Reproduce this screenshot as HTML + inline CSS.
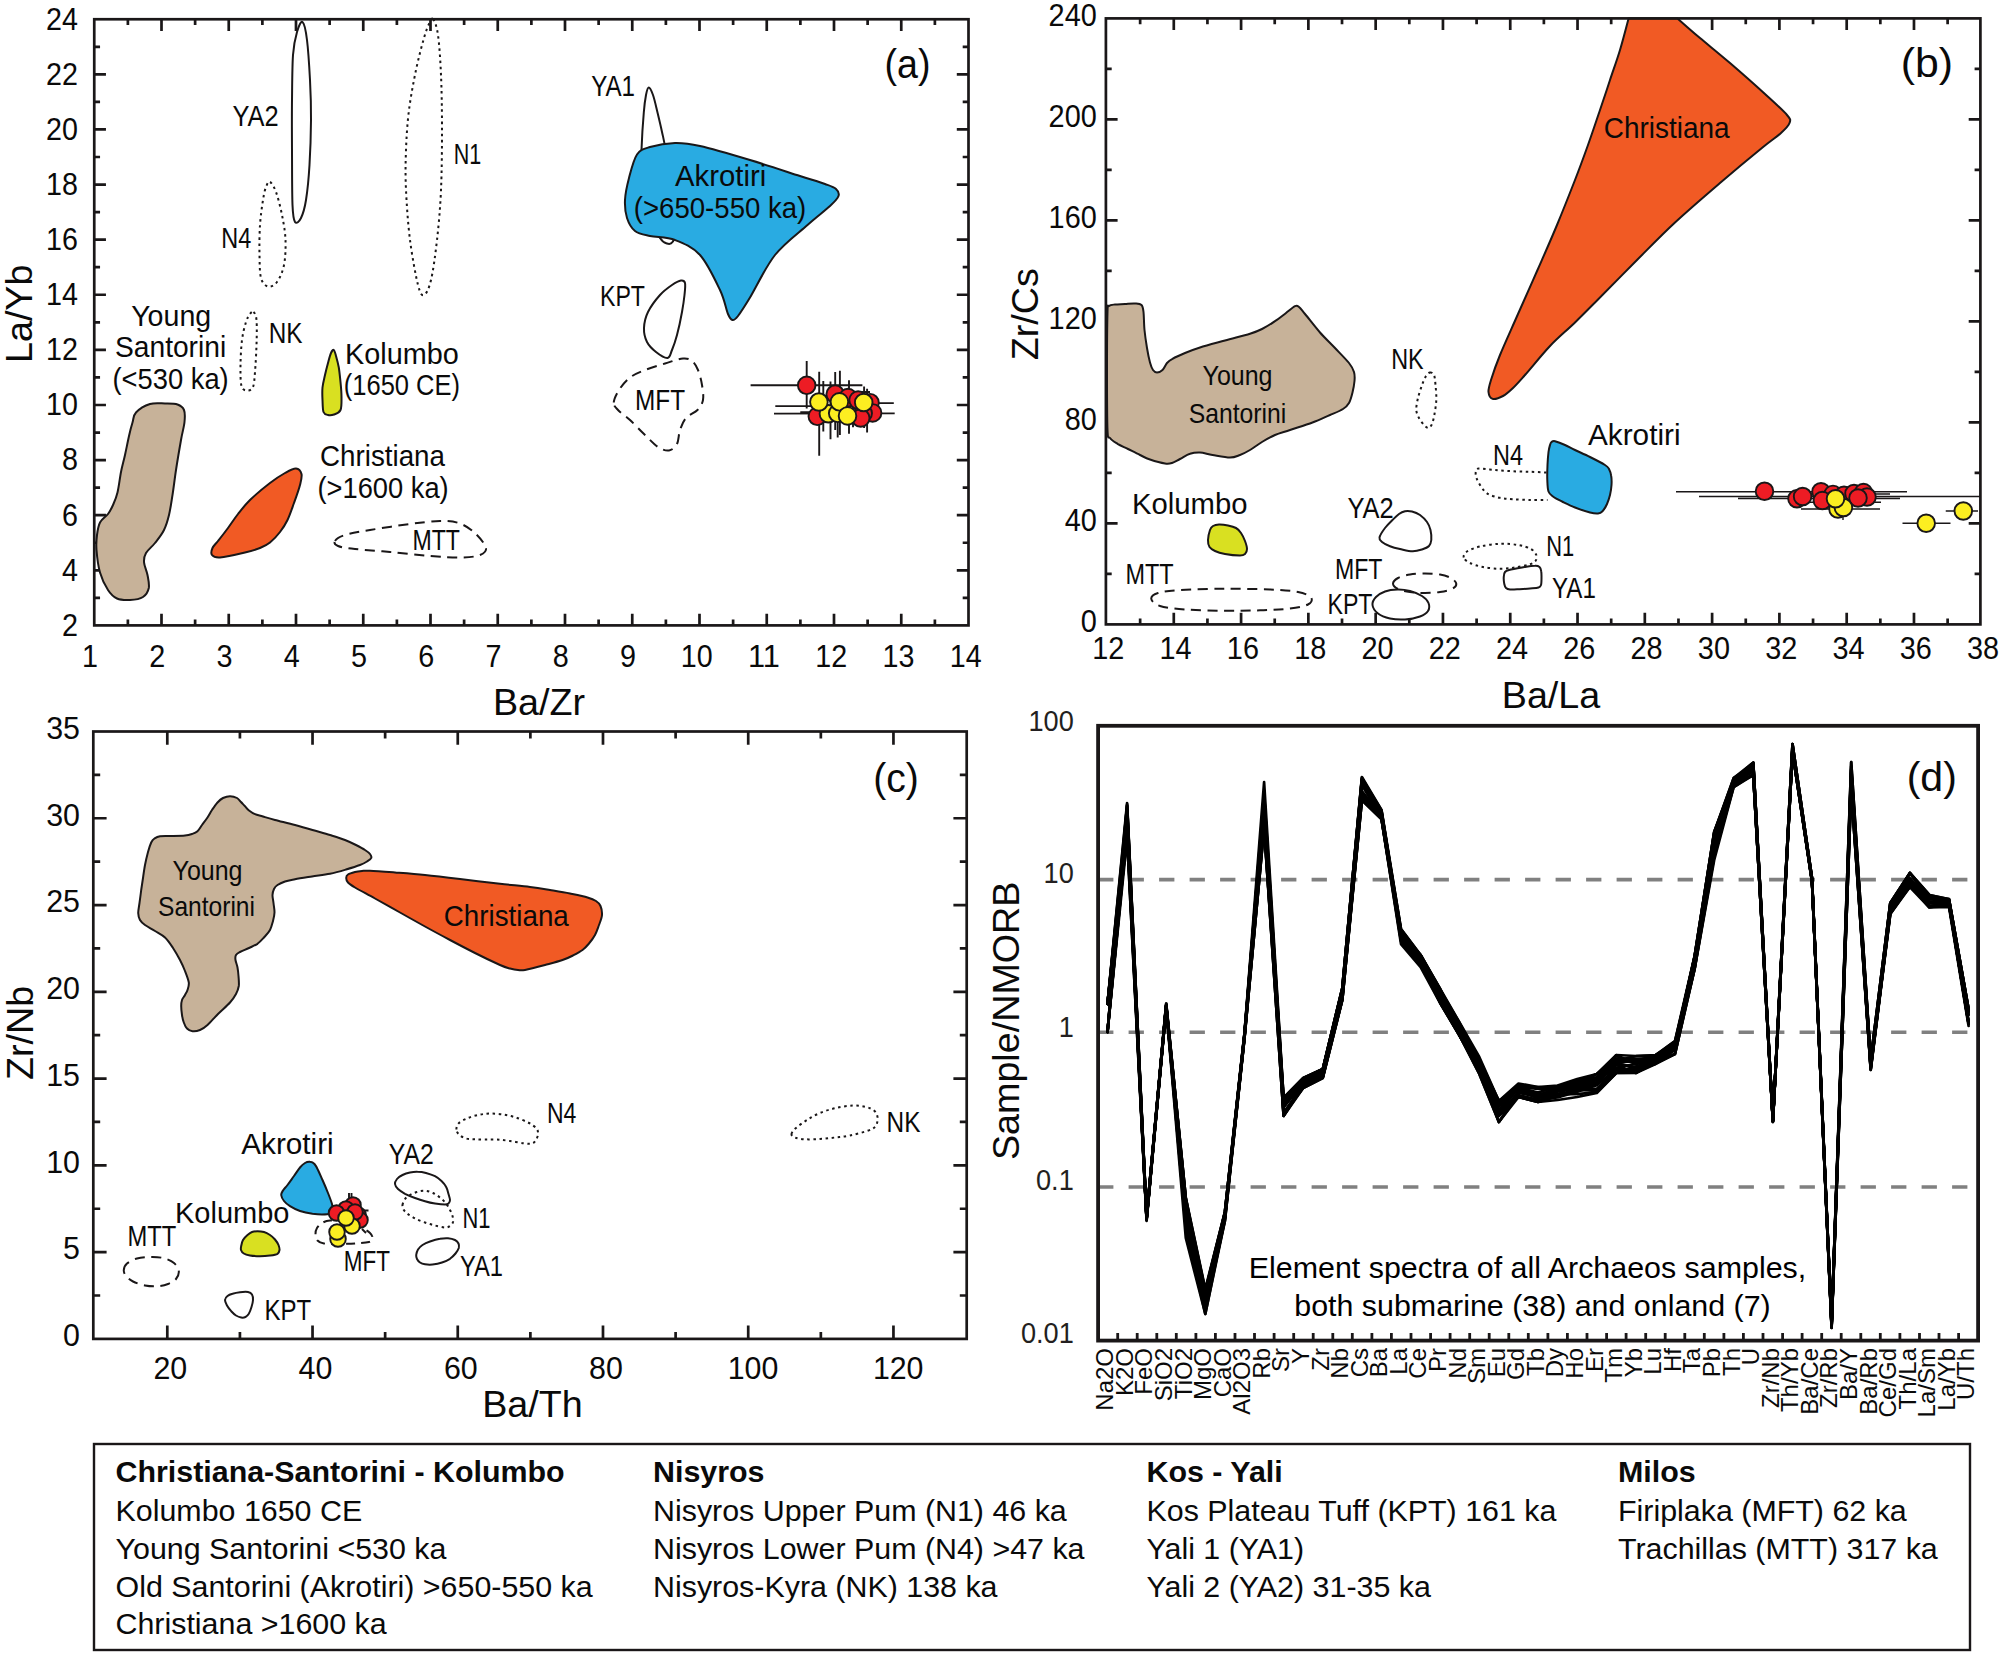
<!DOCTYPE html>
<html><head><meta charset="utf-8"><title>Figure</title>
<style>
html,body{margin:0;padding:0;background:#fff}
body{width:2000px;height:1654px;overflow:hidden}
svg{display:block}
svg text{font-family:"Liberation Sans",sans-serif}
</style></head><body>
<svg width="2000" height="1654" viewBox="0 0 2000 1654">
<rect width="2000" height="1654" fill="#fff"/>
<g id="panel-a">
<path d="M161.50,19.25v11.7M161.50,625.4v-11.7M228.75,19.25v11.7M228.75,625.4v-11.7M296.00,19.25v11.7M296.00,625.4v-11.7M363.25,19.25v11.7M363.25,625.4v-11.7M430.50,19.25v11.7M430.50,625.4v-11.7M497.75,19.25v11.7M497.75,625.4v-11.7M565.00,19.25v11.7M565.00,625.4v-11.7M632.25,19.25v11.7M632.25,625.4v-11.7M699.50,19.25v11.7M699.50,625.4v-11.7M766.75,19.25v11.7M766.75,625.4v-11.7M834.00,19.25v11.7M834.00,625.4v-11.7M901.25,19.25v11.7M901.25,625.4v-11.7M127.88,19.25v5.8M127.88,625.4v-5.8M195.12,19.25v5.8M195.12,625.4v-5.8M262.38,19.25v5.8M262.38,625.4v-5.8M329.62,19.25v5.8M329.62,625.4v-5.8M396.88,19.25v5.8M396.88,625.4v-5.8M464.12,19.25v5.8M464.12,625.4v-5.8M531.38,19.25v5.8M531.38,625.4v-5.8M598.62,19.25v5.8M598.62,625.4v-5.8M665.88,19.25v5.8M665.88,625.4v-5.8M733.12,19.25v5.8M733.12,625.4v-5.8M800.38,19.25v5.8M800.38,625.4v-5.8M867.62,19.25v5.8M867.62,625.4v-5.8M934.88,19.25v5.8M934.88,625.4v-5.8M94.25,570.30h11.7M968.5,570.30h-11.7M94.25,515.19h11.7M968.5,515.19h-11.7M94.25,460.09h11.7M968.5,460.09h-11.7M94.25,404.98h11.7M968.5,404.98h-11.7M94.25,349.88h11.7M968.5,349.88h-11.7M94.25,294.77h11.7M968.5,294.77h-11.7M94.25,239.67h11.7M968.5,239.67h-11.7M94.25,184.56h11.7M968.5,184.56h-11.7M94.25,129.46h11.7M968.5,129.46h-11.7M94.25,74.35h11.7M968.5,74.35h-11.7M94.25,597.85h5.8M968.5,597.85h-5.8M94.25,542.74h5.8M968.5,542.74h-5.8M94.25,487.64h5.8M968.5,487.64h-5.8M94.25,432.53h5.8M968.5,432.53h-5.8M94.25,377.43h5.8M968.5,377.43h-5.8M94.25,322.32h5.8M968.5,322.32h-5.8M94.25,267.22h5.8M968.5,267.22h-5.8M94.25,212.12h5.8M968.5,212.12h-5.8M94.25,157.01h5.8M968.5,157.01h-5.8M94.25,101.91h5.8M968.5,101.91h-5.8M94.25,46.80h5.8M968.5,46.80h-5.8" stroke="#1a1718" stroke-width="2.7" fill="none"/>
<path d="M302.5,22.0C304.2,23.3 305.8,30.3 307.0,40.0C308.2,49.7 309.3,66.7 310.0,80.0C310.7,93.3 311.1,105.8 311.0,120.0C310.9,134.2 310.3,151.7 309.5,165.0C308.7,178.3 307.4,191.2 306.0,200.0C304.6,208.8 302.8,214.3 301.0,218.0C299.2,221.7 296.4,224.2 295.0,222.0C293.6,219.8 293.0,217.0 292.5,205.0C292.0,193.0 292.1,167.5 292.0,150.0C291.9,132.5 291.8,115.8 292.0,100.0C292.2,84.2 292.2,66.3 293.0,55.0C293.8,43.7 295.4,37.5 297.0,32.0C298.6,26.5 300.8,20.7 302.5,22.0Z" fill="none" stroke="#1a1718" stroke-width="2" stroke-linejoin="round"/>
<path d="M433.0,19.0C434.5,20.8 436.7,25.7 438.0,35.0C439.3,44.3 440.3,59.2 441.0,75.0C441.7,90.8 442.0,110.8 442.0,130.0C442.0,149.2 441.8,171.7 441.0,190.0C440.2,208.3 438.7,225.0 437.0,240.0C435.3,255.0 433.2,270.8 431.0,280.0C428.8,289.2 426.2,294.2 424.0,295.0C421.8,295.8 420.3,294.2 418.0,285.0C415.7,275.8 412.0,255.8 410.0,240.0C408.0,224.2 406.7,205.0 406.0,190.0C405.3,175.0 405.5,163.3 406.0,150.0C406.5,136.7 407.3,123.3 409.0,110.0C410.7,96.7 413.5,82.0 416.0,70.0C418.5,58.0 421.8,45.7 424.0,38.0C426.2,30.3 427.5,27.2 429.0,24.0C430.5,20.8 431.5,17.2 433.0,19.0Z" fill="none" stroke="#1a1718" stroke-width="2" stroke-linejoin="round" stroke-dasharray="2.5,3.6"/>
<path d="M270.0,182.0C271.7,182.8 274.0,186.5 276.0,192.0C278.0,197.5 280.4,207.0 282.0,215.0C283.6,223.0 285.2,231.7 285.5,240.0C285.8,248.3 285.4,258.0 284.0,265.0C282.6,272.0 279.7,278.4 277.0,282.0C274.3,285.6 270.7,287.2 268.0,286.5C265.3,285.8 262.4,283.2 261.0,278.0C259.6,272.8 259.7,263.8 259.5,255.0C259.3,246.2 259.4,234.2 260.0,225.0C260.6,215.8 262.0,206.3 263.0,200.0C264.0,193.7 264.8,190.0 266.0,187.0C267.2,184.0 268.3,181.2 270.0,182.0Z" fill="none" stroke="#1a1718" stroke-width="2" stroke-linejoin="round" stroke-dasharray="2.5,3.6"/>
<path d="M253.5,312.0C254.6,313.0 256.0,314.5 256.5,320.0C257.0,325.5 256.8,336.3 256.5,345.0C256.2,353.7 255.6,365.0 255.0,372.0C254.4,379.0 254.3,383.9 253.0,387.0C251.7,390.1 248.9,390.7 247.0,390.5C245.1,390.3 242.6,390.2 241.5,386.0C240.4,381.8 240.4,372.7 240.5,365.0C240.6,357.3 241.1,347.2 242.0,340.0C242.9,332.8 244.7,326.3 246.0,322.0C247.3,317.7 248.8,315.7 250.0,314.0C251.2,312.3 252.4,311.0 253.5,312.0Z" fill="none" stroke="#1a1718" stroke-width="2" stroke-linejoin="round" stroke-dasharray="2.5,3.6"/>
<path d="M648.8,87.5C649.9,87.5 651.5,90.8 653.0,95.0C654.5,99.2 656.0,106.3 657.5,112.5C659.0,118.7 660.7,125.8 662.0,132.0C663.3,138.2 664.2,140.3 665.5,150.0C666.8,159.7 668.6,176.3 670.0,190.0C671.4,203.7 673.6,223.3 674.0,232.0C674.4,240.7 673.7,240.1 672.5,242.0C671.3,243.9 669.1,244.2 667.0,243.5C664.9,242.8 663.2,242.8 660.0,238.0C656.8,233.2 651.1,224.7 648.0,215.0C644.9,205.3 642.6,190.8 641.5,180.0C640.4,169.2 641.1,161.2 641.5,150.0C641.9,138.8 643.0,121.7 643.8,112.5C644.5,103.3 645.2,99.2 646.0,95.0C646.8,90.8 647.6,87.5 648.8,87.5Z" fill="none" stroke="#1a1718" stroke-width="2" stroke-linejoin="round"/>
<path d="M637.0,154.5C640.5,149.3 643.7,148.9 650.0,147.0C656.3,145.1 666.7,143.2 675.0,143.0C683.3,142.8 687.5,143.2 700.0,146.0C712.5,148.8 733.3,155.0 750.0,160.0C766.7,165.0 787.5,172.0 800.0,176.0C812.5,180.0 819.0,181.8 825.0,184.0C831.0,186.2 833.8,187.0 836.0,189.0C838.2,191.0 839.5,193.2 838.5,196.0C837.5,198.8 835.2,201.2 830.0,206.0C824.8,210.8 816.7,216.8 807.5,225.0C798.3,233.2 784.6,242.9 775.0,255.0C765.4,267.1 756.2,287.3 750.0,297.5C743.8,307.7 740.9,312.2 738.0,316.0C735.1,319.8 734.2,320.3 732.5,320.0C730.8,319.7 730.1,319.0 728.0,314.0C725.9,309.0 724.7,299.8 720.0,290.0C715.3,280.2 707.5,263.3 700.0,255.0C692.5,246.7 683.3,243.2 675.0,240.0C666.7,236.8 656.7,237.5 650.0,236.0C643.3,234.5 638.8,234.0 635.0,231.0C631.2,228.0 628.7,223.2 627.0,218.0C625.3,212.8 624.7,206.7 625.0,200.0C625.3,193.3 627.0,185.6 629.0,178.0C631.0,170.4 633.5,159.7 637.0,154.5Z" fill="#29abe2" stroke="#1a1718" stroke-width="2" stroke-linejoin="round"/>
<path d="M685.0,283.0C684.4,280.6 683.2,280.2 681.0,280.5C678.8,280.8 675.5,282.6 672.0,285.0C668.5,287.4 664.0,290.5 660.0,295.0C656.0,299.5 650.7,306.5 648.0,312.0C645.3,317.5 644.2,323.0 644.0,328.0C643.8,333.0 645.0,338.0 647.0,342.0C649.0,346.0 652.6,349.3 656.0,352.0C659.4,354.7 664.8,358.3 667.5,358.0C670.2,357.7 670.4,353.8 672.0,350.0C673.6,346.2 675.3,341.3 677.0,335.0C678.7,328.7 680.8,318.7 682.0,312.0C683.2,305.3 684.0,299.8 684.5,295.0C685.0,290.2 685.6,285.4 685.0,283.0Z" fill="none" stroke="#1a1718" stroke-width="2" stroke-linejoin="round"/>
<path d="M613.8,402.5C613.9,399.2 616.3,394.2 619.0,390.0C621.7,385.8 625.7,380.8 630.0,377.5C634.3,374.2 639.2,372.3 645.0,370.0C650.8,367.7 658.7,365.4 665.0,363.5C671.3,361.6 678.5,358.9 683.0,358.5C687.5,358.1 689.5,359.1 692.0,361.0C694.5,362.9 696.3,366.0 698.0,370.0C699.7,374.0 701.2,380.0 702.0,385.0C702.8,390.0 703.8,395.8 703.0,400.0C702.2,404.2 700.3,407.0 697.5,410.0C694.7,413.0 688.9,414.7 686.0,418.0C683.1,421.3 681.5,425.7 680.0,430.0C678.5,434.3 678.8,440.6 677.0,444.0C675.2,447.4 672.2,450.0 669.0,450.5C665.8,451.0 662.0,449.6 658.0,447.0C654.0,444.4 649.7,439.5 645.0,435.0C640.3,430.5 634.5,424.2 630.0,420.0C625.5,415.8 620.7,412.9 618.0,410.0C615.3,407.1 613.6,405.8 613.8,402.5Z" fill="none" stroke="#1a1718" stroke-width="2" stroke-linejoin="round" stroke-dasharray="10,6.5"/>
<path d="M335.0,541.0C336.2,539.2 339.2,536.8 345.0,535.0C350.8,533.2 359.2,531.8 370.0,530.0C380.8,528.2 398.3,525.5 410.0,524.0C421.7,522.5 431.7,521.1 440.0,521.0C448.3,520.9 454.0,521.3 460.0,523.5C466.0,525.7 471.7,529.9 476.0,534.0C480.3,538.1 485.3,544.5 486.0,548.0C486.7,551.5 484.0,553.4 480.0,555.0C476.0,556.6 470.3,557.3 462.0,557.5C453.7,557.7 442.0,556.9 430.0,556.0C418.0,555.1 402.5,553.2 390.0,552.0C377.5,550.8 363.7,550.0 355.0,549.0C346.3,548.0 341.3,547.3 338.0,546.0C334.7,544.7 333.8,542.8 335.0,541.0Z" fill="none" stroke="#1a1718" stroke-width="2" stroke-linejoin="round" stroke-dasharray="10,6.5"/>
<path d="M136.0,412.5C138.9,409.4 145.2,405.5 150.0,404.0C154.8,402.5 160.4,403.4 165.0,403.5C169.6,403.6 174.3,403.4 177.5,404.5C180.7,405.6 182.8,407.1 184.0,410.0C185.2,412.9 185.0,417.0 184.5,422.0C184.0,427.0 182.4,432.0 181.0,440.0C179.6,448.0 177.4,460.8 176.0,470.0C174.6,479.2 173.7,487.5 172.5,495.0C171.3,502.5 170.4,509.2 169.0,515.0C167.6,520.8 166.3,525.3 164.0,530.0C161.7,534.7 158.0,539.2 155.0,543.0C152.0,546.8 147.8,549.8 146.0,553.0C144.2,556.2 143.8,558.3 144.0,562.0C144.2,565.7 146.7,570.7 147.5,575.0C148.3,579.3 149.5,584.3 148.8,588.0C148.0,591.7 146.1,595.0 143.0,597.0C139.9,599.0 134.3,599.8 130.0,600.0C125.7,600.2 120.7,600.2 117.0,598.5C113.3,596.8 110.8,594.3 108.0,590.0C105.2,585.7 101.9,579.2 100.0,572.5C98.1,565.8 97.0,556.2 96.5,550.0C96.0,543.8 96.4,539.6 97.0,535.0C97.6,530.4 98.2,526.0 100.0,522.5C101.8,519.0 105.8,516.9 108.0,514.0C110.2,511.1 111.4,508.6 113.0,505.0C114.6,501.4 116.2,498.0 117.5,492.5C118.8,487.0 119.8,478.2 121.0,472.0C122.2,465.8 123.7,461.0 125.0,455.0C126.3,449.0 127.8,441.4 129.0,436.0C130.2,430.6 131.3,426.4 132.5,422.5C133.7,418.6 133.1,415.6 136.0,412.5Z" fill="#c7b299" stroke="#1a1718" stroke-width="2" stroke-linejoin="round"/>
<path d="M212.5,548.0C211.5,550.3 210.8,553.4 212.0,555.0C213.2,556.6 214.5,557.9 220.0,557.5C225.5,557.1 238.3,554.1 245.0,552.5C251.7,550.9 255.8,549.7 260.0,548.0C264.2,546.3 266.7,545.2 270.0,542.5C273.3,539.8 277.1,535.8 280.0,532.0C282.9,528.2 285.2,524.8 287.5,520.0C289.8,515.2 291.9,508.8 294.0,503.0C296.1,497.2 298.8,489.8 300.0,485.0C301.2,480.2 302.2,476.8 301.5,474.0C300.8,471.2 298.8,468.7 296.0,468.5C293.2,468.3 289.3,470.6 285.0,473.0C280.7,475.4 275.8,478.5 270.0,483.0C264.2,487.5 255.3,494.8 250.0,500.0C244.7,505.2 241.7,509.3 238.0,514.0C234.3,518.7 231.3,523.5 228.0,528.0C224.7,532.5 220.6,537.7 218.0,541.0C215.4,544.3 213.5,545.7 212.5,548.0Z" fill="#f15a24" stroke="#1a1718" stroke-width="2" stroke-linejoin="round"/>
<path d="M333.8,350.0C334.6,350.5 335.2,353.1 336.0,356.0C336.8,358.9 338.0,363.2 338.8,367.5C339.5,371.8 340.0,377.1 340.5,382.0C341.0,386.9 341.5,392.3 341.5,397.0C341.5,401.7 341.8,407.1 340.5,410.0C339.2,412.9 336.1,413.7 334.0,414.5C331.9,415.3 329.8,415.4 328.0,415.0C326.2,414.6 324.4,414.5 323.5,412.0C322.6,409.5 322.7,404.1 322.5,400.0C322.3,395.9 322.1,391.7 322.5,387.5C322.9,383.3 324.1,379.1 325.0,375.0C325.9,370.9 327.0,366.7 328.0,363.0C329.0,359.3 330.0,355.2 331.0,353.0C332.0,350.8 332.9,349.5 333.8,350.0Z" fill="#d9e021" stroke="#1a1718" stroke-width="2" stroke-linejoin="round"/>
<path d="M750.6,385.3L862.4,385.3M806.7,361L806.7,408.6M775.3,406.1L830,406.1M840,403.1L893.8,403.1M774,413.6L894.7,413.4M800.3,412.3L830,412.3M819.2,371.7L819.2,455.8M823.3,381L823.3,431.6M830.5,381.4L830.5,439.2M835.2,372L835.2,430M839.9,370.8L839.9,435M837.7,400L837.7,437.5M849,380.2L849,433.7M853,390L853,427.3M864.1,386.5L864.1,428M867.1,388.7L867.1,432.4M845,392L870,392" stroke="#1a1718" stroke-width="1.9" fill="none"/>
<circle cx="806.7" cy="385.3" r="8.8" fill="#ed1c24" stroke="#1a1718" stroke-width="1.9"/>
<circle cx="817.3" cy="416.3" r="8.8" fill="#ed1c24" stroke="#1a1718" stroke-width="1.9"/>
<circle cx="835.2" cy="394.2" r="8.8" fill="#ed1c24" stroke="#1a1718" stroke-width="1.9"/>
<circle cx="848" cy="397.6" r="8.8" fill="#ed1c24" stroke="#1a1718" stroke-width="1.9"/>
<circle cx="858.1" cy="400.1" r="8.8" fill="#ed1c24" stroke="#1a1718" stroke-width="1.9"/>
<circle cx="870" cy="402.7" r="8.8" fill="#ed1c24" stroke="#1a1718" stroke-width="1.9"/>
<circle cx="872.6" cy="412.9" r="8.8" fill="#ed1c24" stroke="#1a1718" stroke-width="1.9"/>
<circle cx="863.2" cy="413.3" r="8.8" fill="#ed1c24" stroke="#1a1718" stroke-width="1.9"/>
<circle cx="860.7" cy="418" r="8.8" fill="#ed1c24" stroke="#1a1718" stroke-width="1.9"/>
<circle cx="828.4" cy="413.75" r="8.8" fill="#fcee21" stroke="#1a1718" stroke-width="1.9"/>
<circle cx="837.7" cy="413.3" r="8.8" fill="#fcee21" stroke="#1a1718" stroke-width="1.9"/>
<circle cx="818.9" cy="402" r="8.8" fill="#fcee21" stroke="#1a1718" stroke-width="1.9"/>
<circle cx="839.4" cy="401.8" r="8.8" fill="#fcee21" stroke="#1a1718" stroke-width="1.9"/>
<circle cx="847.5" cy="415.9" r="8.8" fill="#fcee21" stroke="#1a1718" stroke-width="1.9"/>
<circle cx="863.7" cy="402.5" r="8.8" fill="#fcee21" stroke="#1a1718" stroke-width="1.9"/>
<rect x="94.25" y="19.25" width="874.25" height="606.15" fill="none" stroke="#1a1718" stroke-width="2.7"/>
<text x="90.0" y="667" font-size="31.4" text-anchor="middle" textLength="16.0" lengthAdjust="spacingAndGlyphs" fill="#0a0a0a">1</text>
<text x="157.2" y="667" font-size="31.4" text-anchor="middle" textLength="16.0" lengthAdjust="spacingAndGlyphs" fill="#0a0a0a">2</text>
<text x="224.4" y="667" font-size="31.4" text-anchor="middle" textLength="16.0" lengthAdjust="spacingAndGlyphs" fill="#0a0a0a">3</text>
<text x="291.7" y="667" font-size="31.4" text-anchor="middle" textLength="16.0" lengthAdjust="spacingAndGlyphs" fill="#0a0a0a">4</text>
<text x="358.9" y="667" font-size="31.4" text-anchor="middle" textLength="16.0" lengthAdjust="spacingAndGlyphs" fill="#0a0a0a">5</text>
<text x="426.2" y="667" font-size="31.4" text-anchor="middle" textLength="16.0" lengthAdjust="spacingAndGlyphs" fill="#0a0a0a">6</text>
<text x="493.4" y="667" font-size="31.4" text-anchor="middle" textLength="16.0" lengthAdjust="spacingAndGlyphs" fill="#0a0a0a">7</text>
<text x="560.7" y="667" font-size="31.4" text-anchor="middle" textLength="16.0" lengthAdjust="spacingAndGlyphs" fill="#0a0a0a">8</text>
<text x="628.0" y="667" font-size="31.4" text-anchor="middle" textLength="16.0" lengthAdjust="spacingAndGlyphs" fill="#0a0a0a">9</text>
<text x="696.8" y="667" font-size="31.4" text-anchor="middle" textLength="31.9" lengthAdjust="spacingAndGlyphs" fill="#0a0a0a">10</text>
<text x="764.0" y="667" font-size="31.4" text-anchor="middle" textLength="31.9" lengthAdjust="spacingAndGlyphs" fill="#0a0a0a">11</text>
<text x="831.3" y="667" font-size="31.4" text-anchor="middle" textLength="31.9" lengthAdjust="spacingAndGlyphs" fill="#0a0a0a">12</text>
<text x="898.5" y="667" font-size="31.4" text-anchor="middle" textLength="31.9" lengthAdjust="spacingAndGlyphs" fill="#0a0a0a">13</text>
<text x="965.8" y="667" font-size="31.4" text-anchor="middle" textLength="31.9" lengthAdjust="spacingAndGlyphs" fill="#0a0a0a">14</text>
<text x="78" y="635.7" font-size="31.4" text-anchor="end" textLength="16.0" lengthAdjust="spacingAndGlyphs" fill="#0a0a0a">2</text>
<text x="78" y="580.6" font-size="31.4" text-anchor="end" textLength="16.0" lengthAdjust="spacingAndGlyphs" fill="#0a0a0a">4</text>
<text x="78" y="525.5" font-size="31.4" text-anchor="end" textLength="16.0" lengthAdjust="spacingAndGlyphs" fill="#0a0a0a">6</text>
<text x="78" y="470.4" font-size="31.4" text-anchor="end" textLength="16.0" lengthAdjust="spacingAndGlyphs" fill="#0a0a0a">8</text>
<text x="78" y="415.3" font-size="31.4" text-anchor="end" textLength="31.9" lengthAdjust="spacingAndGlyphs" fill="#0a0a0a">10</text>
<text x="78" y="360.2" font-size="31.4" text-anchor="end" textLength="31.9" lengthAdjust="spacingAndGlyphs" fill="#0a0a0a">12</text>
<text x="78" y="305.1" font-size="31.4" text-anchor="end" textLength="31.9" lengthAdjust="spacingAndGlyphs" fill="#0a0a0a">14</text>
<text x="78" y="250.0" font-size="31.4" text-anchor="end" textLength="31.9" lengthAdjust="spacingAndGlyphs" fill="#0a0a0a">16</text>
<text x="78" y="194.9" font-size="31.4" text-anchor="end" textLength="31.9" lengthAdjust="spacingAndGlyphs" fill="#0a0a0a">18</text>
<text x="78" y="139.8" font-size="31.4" text-anchor="end" textLength="31.9" lengthAdjust="spacingAndGlyphs" fill="#0a0a0a">20</text>
<text x="78" y="84.7" font-size="31.4" text-anchor="end" textLength="31.9" lengthAdjust="spacingAndGlyphs" fill="#0a0a0a">22</text>
<text x="78" y="29.6" font-size="31.4" text-anchor="end" textLength="31.9" lengthAdjust="spacingAndGlyphs" fill="#0a0a0a">24</text>
<text x="232.5" y="126.2" font-size="29.5" textLength="46.2" lengthAdjust="spacingAndGlyphs" fill="#0a0a0a">YA2</text>
<text x="221.2" y="247.5" font-size="29.5" textLength="30.0" lengthAdjust="spacingAndGlyphs" fill="#0a0a0a">N4</text>
<text x="453.8" y="164.2" font-size="29.5" textLength="27.5" lengthAdjust="spacingAndGlyphs" fill="#0a0a0a">N1</text>
<text x="268.8" y="342.5" font-size="29.5" textLength="33.8" lengthAdjust="spacingAndGlyphs" fill="#0a0a0a">NK</text>
<text x="131.2" y="326.2" font-size="29" textLength="80.0" lengthAdjust="spacingAndGlyphs" fill="#0a0a0a">Young</text>
<text x="115" y="357" font-size="29" textLength="111.2" lengthAdjust="spacingAndGlyphs" fill="#0a0a0a">Santorini</text>
<text x="112.5" y="388.8" font-size="29" textLength="116.2" lengthAdjust="spacingAndGlyphs" fill="#0a0a0a">(&lt;530 ka)</text>
<text x="345" y="363.8" font-size="29" textLength="113.8" lengthAdjust="spacingAndGlyphs" fill="#0a0a0a">Kolumbo</text>
<text x="343.8" y="395" font-size="29" textLength="116.2" lengthAdjust="spacingAndGlyphs" fill="#0a0a0a">(1650 CE)</text>
<text x="320" y="466.2" font-size="29" textLength="125" lengthAdjust="spacingAndGlyphs" fill="#0a0a0a">Christiana</text>
<text x="317.5" y="497.5" font-size="29" textLength="131.2" lengthAdjust="spacingAndGlyphs" fill="#0a0a0a">(&gt;1600 ka)</text>
<text x="412.5" y="550" font-size="29.5" textLength="47.5" lengthAdjust="spacingAndGlyphs" fill="#0a0a0a">MTT</text>
<text x="591.2" y="95.5" font-size="29.5" textLength="43.8" lengthAdjust="spacingAndGlyphs" fill="#0a0a0a">YA1</text>
<text x="675" y="186.2" font-size="29" textLength="91.2" lengthAdjust="spacingAndGlyphs" fill="#0a0a0a">Akrotiri</text>
<text x="633.8" y="217.5" font-size="29" textLength="172.5" lengthAdjust="spacingAndGlyphs" fill="#0a0a0a">(&gt;650-550 ka)</text>
<text x="600" y="305.5" font-size="29.5" textLength="45" lengthAdjust="spacingAndGlyphs" fill="#0a0a0a">KPT</text>
<text x="635" y="410" font-size="29.5" textLength="50" lengthAdjust="spacingAndGlyphs" fill="#0a0a0a">MFT</text>
<text x="884.5" y="77.5" font-size="41" textLength="46.0" lengthAdjust="spacingAndGlyphs" fill="#0a0a0a">(a)</text>
<text x="539" y="715" font-size="37.7" text-anchor="middle" fill="#0a0a0a">Ba/Zr</text>
<text x="31.9" y="313.8" font-size="37.7" text-anchor="middle" transform="rotate(-90 31.9 313.8)" fill="#0a0a0a">La/Yb</text>
</g>
<g id="panel-b">
<path d="M1173.79,18.4v11.7M1173.79,624.4v-11.7M1241.08,18.4v11.7M1241.08,624.4v-11.7M1308.37,18.4v11.7M1308.37,624.4v-11.7M1375.66,18.4v11.7M1375.66,624.4v-11.7M1442.95,18.4v11.7M1442.95,624.4v-11.7M1510.24,18.4v11.7M1510.24,624.4v-11.7M1577.53,18.4v11.7M1577.53,624.4v-11.7M1644.82,18.4v11.7M1644.82,624.4v-11.7M1712.11,18.4v11.7M1712.11,624.4v-11.7M1779.40,18.4v11.7M1779.40,624.4v-11.7M1846.69,18.4v11.7M1846.69,624.4v-11.7M1913.98,18.4v11.7M1913.98,624.4v-11.7M1140.14,18.4v5.8M1140.14,624.4v-5.8M1207.43,18.4v5.8M1207.43,624.4v-5.8M1274.72,18.4v5.8M1274.72,624.4v-5.8M1342.02,18.4v5.8M1342.02,624.4v-5.8M1409.31,18.4v5.8M1409.31,624.4v-5.8M1476.60,18.4v5.8M1476.60,624.4v-5.8M1543.88,18.4v5.8M1543.88,624.4v-5.8M1611.18,18.4v5.8M1611.18,624.4v-5.8M1678.47,18.4v5.8M1678.47,624.4v-5.8M1745.76,18.4v5.8M1745.76,624.4v-5.8M1813.05,18.4v5.8M1813.05,624.4v-5.8M1880.34,18.4v5.8M1880.34,624.4v-5.8M1947.62,18.4v5.8M1947.62,624.4v-5.8M1105.9,523.40h11.7M1980.4,523.40h-11.7M1105.9,422.40h11.7M1980.4,422.40h-11.7M1105.9,321.40h11.7M1980.4,321.40h-11.7M1105.9,220.40h11.7M1980.4,220.40h-11.7M1105.9,119.40h11.7M1980.4,119.40h-11.7M1105.9,573.90h5.8M1980.4,573.90h-5.8M1105.9,472.90h5.8M1980.4,472.90h-5.8M1105.9,371.90h5.8M1980.4,371.90h-5.8M1105.9,270.90h5.8M1980.4,270.90h-5.8M1105.9,169.90h5.8M1980.4,169.90h-5.8M1105.9,68.90h5.8M1980.4,68.90h-5.8" stroke="#1a1718" stroke-width="2.7" fill="none"/>
<path d="M1628.6,18.4C1627.2,23.7 1623.1,39.7 1620.0,50.0C1616.9,60.3 1613.3,70.0 1610.0,80.0C1606.7,90.0 1603.7,99.2 1600.0,110.0C1596.3,120.8 1592.2,133.3 1588.0,145.0C1583.8,156.7 1580.2,166.7 1575.0,180.0C1569.8,193.3 1563.2,210.0 1557.0,225.0C1550.8,240.0 1544.0,255.2 1537.5,270.0C1531.0,284.8 1524.2,299.8 1518.0,314.0C1511.8,328.2 1504.5,344.0 1500.0,355.0C1495.5,366.0 1492.9,373.8 1491.0,380.0C1489.1,386.2 1488.2,388.9 1488.5,392.0C1488.8,395.1 1490.1,398.1 1492.5,398.8C1494.9,399.4 1499.6,397.8 1503.0,396.0C1506.4,394.2 1509.3,391.5 1513.0,388.0C1516.7,384.5 1518.8,382.0 1525.0,375.0C1531.2,368.0 1541.7,354.8 1550.0,346.0C1558.3,337.2 1567.1,330.2 1575.0,322.5C1582.9,314.8 1587.2,310.4 1597.5,300.0C1607.8,289.6 1624.1,272.9 1637.0,260.0C1649.9,247.1 1661.2,235.3 1675.0,222.5C1688.8,209.7 1705.4,195.5 1720.0,183.0C1734.6,170.5 1752.3,155.8 1762.5,147.5C1772.7,139.2 1776.5,137.1 1781.0,133.0C1785.5,128.9 1788.5,126.0 1789.5,123.0C1790.5,120.0 1791.1,119.8 1787.0,115.0C1782.9,110.2 1774.5,102.7 1765.0,94.0C1755.5,85.3 1740.8,72.3 1730.0,63.0C1719.2,53.7 1708.8,45.4 1700.0,38.0C1691.2,30.6 1681.2,21.7 1677.5,18.4Z" fill="#f15a24" stroke="#1a1718" stroke-width="2" stroke-linejoin="round"/>
<path d="M1107.5,312.0C1107.8,301.3 1107.8,307.2 1109.0,306.0C1110.2,304.8 1112.3,304.8 1115.0,304.5C1117.7,304.2 1121.7,304.2 1125.0,304.0C1128.3,303.8 1132.2,303.3 1135.0,303.5C1137.8,303.7 1140.1,303.6 1141.5,305.0C1142.9,306.4 1143.0,307.8 1143.5,312.0C1144.0,316.2 1143.9,324.0 1144.5,330.0C1145.1,336.0 1146.1,342.6 1147.0,348.0C1147.9,353.4 1149.0,358.8 1150.0,362.5C1151.0,366.2 1151.8,368.3 1153.0,370.0C1154.2,371.7 1155.4,372.5 1157.0,372.5C1158.6,372.5 1160.8,371.6 1162.5,370.0C1164.2,368.4 1165.3,364.9 1167.0,363.0C1168.7,361.1 1169.5,360.4 1172.5,358.8C1175.5,357.1 1180.4,354.9 1185.0,353.0C1189.6,351.1 1193.3,349.6 1200.0,347.5C1206.7,345.4 1216.7,342.8 1225.0,340.5C1233.3,338.2 1243.8,335.7 1250.0,333.8C1256.2,331.8 1257.8,331.1 1262.0,329.0C1266.2,326.9 1271.0,323.9 1275.0,321.2C1279.0,318.6 1282.7,315.5 1286.0,313.0C1289.3,310.5 1292.8,307.2 1295.0,306.2C1297.2,305.2 1297.3,305.7 1299.0,307.0C1300.7,308.3 1301.5,309.8 1305.0,314.0C1308.5,318.2 1315.0,326.8 1320.0,332.5C1325.0,338.2 1330.2,342.9 1335.0,348.0C1339.8,353.1 1345.8,359.0 1349.0,363.0C1352.2,367.0 1353.1,369.0 1354.0,372.0C1354.9,375.0 1354.8,377.6 1354.5,381.0C1354.2,384.4 1353.4,388.8 1352.5,392.5C1351.6,396.2 1350.6,400.2 1349.0,403.0C1347.4,405.8 1346.2,407.0 1343.0,409.0C1339.8,411.0 1335.1,412.8 1330.0,415.0C1324.9,417.2 1319.2,420.0 1312.5,422.5C1305.8,425.0 1296.2,427.9 1290.0,430.0C1283.8,432.1 1279.7,433.0 1275.0,435.0C1270.3,437.0 1266.2,439.5 1262.0,442.0C1257.8,444.5 1253.7,447.8 1250.0,450.0C1246.3,452.2 1243.3,453.8 1240.0,455.0C1236.7,456.2 1234.6,457.5 1230.0,457.5C1225.4,457.5 1217.5,455.8 1212.5,455.0C1207.5,454.2 1203.8,452.7 1200.0,452.5C1196.2,452.3 1193.3,452.7 1190.0,453.8C1186.7,454.8 1183.0,457.5 1180.0,459.0C1177.0,460.5 1174.5,462.2 1172.0,463.0C1169.5,463.8 1168.7,464.1 1165.0,463.5C1161.3,462.9 1154.2,460.9 1150.0,459.5C1145.8,458.1 1143.7,456.8 1140.0,455.0C1136.3,453.2 1131.8,450.9 1128.0,449.0C1124.2,447.1 1120.5,445.6 1117.5,443.8C1114.5,441.9 1111.7,440.3 1110.0,438.0C1108.3,435.7 1108.0,441.3 1107.5,430.0C1107.0,418.7 1107.0,389.7 1107.0,370.0C1107.0,350.3 1107.2,322.7 1107.5,312.0Z" fill="#c7b299" stroke="#1a1718" stroke-width="2" stroke-linejoin="round"/>
<path d="M1210.0,530.0C1210.8,527.7 1211.5,526.9 1213.0,526.0C1214.5,525.1 1216.5,524.6 1219.0,524.5C1221.5,524.4 1225.2,524.9 1228.0,525.5C1230.8,526.1 1233.8,526.8 1236.0,528.0C1238.2,529.2 1239.5,530.8 1241.0,533.0C1242.5,535.2 1244.0,538.3 1245.0,541.0C1246.0,543.7 1247.0,546.8 1247.0,549.0C1247.0,551.2 1246.2,552.9 1245.0,554.0C1243.8,555.1 1243.3,555.5 1240.0,555.5C1236.7,555.5 1229.2,554.8 1225.0,554.0C1220.8,553.2 1217.6,552.2 1215.0,551.0C1212.4,549.8 1210.7,548.8 1209.5,547.0C1208.3,545.2 1207.9,542.8 1208.0,540.0C1208.1,537.2 1209.2,532.3 1210.0,530.0Z" fill="#d9e021" stroke="#1a1718" stroke-width="2" stroke-linejoin="round"/>
<path d="M1430.0,372.5C1431.3,372.3 1433.1,372.9 1434.0,375.0C1434.9,377.1 1435.1,380.8 1435.5,385.0C1435.9,389.2 1436.5,395.2 1436.3,400.0C1436.1,404.8 1435.2,410.0 1434.5,414.0C1433.8,418.0 1433.0,421.7 1432.0,424.0C1431.0,426.3 1429.8,427.8 1428.5,428.0C1427.2,428.2 1425.6,426.7 1424.0,425.0C1422.4,423.3 1420.3,420.5 1419.0,418.0C1417.7,415.5 1416.5,413.3 1416.3,410.0C1416.1,406.7 1417.0,402.2 1418.0,398.0C1419.0,393.8 1420.7,388.7 1422.0,385.0C1423.3,381.3 1424.7,378.1 1426.0,376.0C1427.3,373.9 1428.7,372.7 1430.0,372.5Z" fill="none" stroke="#1a1718" stroke-width="2" stroke-linejoin="round" stroke-dasharray="2.5,3.6"/>
<path d="M1379.5,537.5C1380.0,535.2 1382.8,530.9 1385.0,528.0C1387.2,525.1 1390.2,522.3 1392.5,520.0C1394.8,517.7 1396.9,515.5 1399.0,514.0C1401.1,512.5 1402.8,511.7 1405.0,511.2C1407.2,510.8 1409.5,510.9 1412.0,511.5C1414.5,512.1 1417.5,513.2 1420.0,515.0C1422.5,516.8 1425.2,519.5 1427.0,522.0C1428.8,524.5 1429.8,527.0 1430.5,530.0C1431.2,533.0 1431.5,537.3 1431.3,540.0C1431.0,542.7 1430.5,544.4 1429.0,546.0C1427.5,547.6 1424.8,548.6 1422.0,549.5C1419.2,550.4 1416.2,551.4 1412.5,551.3C1408.8,551.2 1403.8,549.8 1400.0,549.0C1396.2,548.2 1393.0,547.4 1390.0,546.2C1387.0,545.1 1383.8,543.5 1382.0,542.0C1380.2,540.5 1379.0,539.8 1379.5,537.5Z" fill="none" stroke="#1a1718" stroke-width="2" stroke-linejoin="round"/>
<path d="M1393.0,583.8C1393.0,581.9 1395.2,579.5 1398.0,578.0C1400.8,576.5 1405.5,575.2 1410.0,574.5C1414.5,573.8 1420.0,573.5 1425.0,573.5C1430.0,573.5 1435.7,573.8 1440.0,574.5C1444.3,575.2 1448.3,576.5 1451.0,578.0C1453.7,579.5 1456.1,581.9 1456.3,583.8C1456.5,585.6 1454.7,587.6 1452.0,589.0C1449.3,590.4 1444.5,591.3 1440.0,592.0C1435.5,592.7 1430.0,593.0 1425.0,593.0C1420.0,593.0 1414.5,592.7 1410.0,592.0C1405.5,591.3 1400.8,590.4 1398.0,589.0C1395.2,587.6 1393.0,585.6 1393.0,583.8Z" fill="none" stroke="#1a1718" stroke-width="2" stroke-linejoin="round" stroke-dasharray="10,6.5"/>
<path d="M1372.5,605.0C1372.2,602.2 1373.9,599.2 1376.0,597.0C1378.1,594.8 1381.4,592.8 1385.0,591.5C1388.6,590.2 1393.3,589.6 1397.5,589.5C1401.7,589.4 1405.9,589.9 1410.0,591.0C1414.1,592.1 1418.9,594.0 1422.0,596.0C1425.1,598.0 1427.5,600.5 1428.5,603.0C1429.5,605.5 1429.4,608.8 1428.0,611.0C1426.6,613.2 1423.8,615.1 1420.0,616.5C1416.2,617.9 1410.0,619.2 1405.0,619.5C1400.0,619.8 1394.5,619.5 1390.0,618.5C1385.5,617.5 1380.9,615.8 1378.0,613.5C1375.1,611.2 1372.8,607.8 1372.5,605.0Z" fill="none" stroke="#1a1718" stroke-width="2" stroke-linejoin="round"/>
<path d="M1151.3,598.8C1151.0,596.6 1153.2,594.5 1158.0,593.0C1162.8,591.5 1168.8,590.7 1180.0,590.0C1191.2,589.3 1210.0,588.8 1225.0,588.8C1240.0,588.7 1257.8,589.0 1270.0,589.5C1282.2,590.0 1291.2,590.7 1298.0,592.0C1304.8,593.3 1309.3,595.4 1311.0,597.5C1312.7,599.6 1311.5,602.7 1308.0,604.5C1304.5,606.3 1298.0,607.5 1290.0,608.5C1282.0,609.5 1270.8,609.9 1260.0,610.3C1249.2,610.7 1237.5,610.9 1225.0,610.8C1212.5,610.6 1195.8,610.3 1185.0,609.5C1174.2,608.7 1165.6,607.8 1160.0,606.0C1154.4,604.2 1151.6,600.9 1151.3,598.8Z" fill="none" stroke="#1a1718" stroke-width="2" stroke-linejoin="round" stroke-dasharray="10,6.5"/>
<path d="M1546.5,472.5C1543.8,472.4 1535.7,472.0 1530.0,471.8C1524.3,471.6 1518.3,471.6 1512.5,471.2C1506.7,470.9 1500.6,470.5 1495.0,470.0C1489.4,469.5 1482.0,468.2 1478.8,468.5C1475.5,468.8 1476.2,470.4 1475.8,472.0C1475.4,473.6 1475.8,475.8 1476.5,478.0C1477.2,480.2 1478.7,482.8 1480.0,485.0C1481.3,487.2 1482.8,489.3 1484.5,491.0C1486.2,492.7 1487.4,493.9 1490.0,495.0C1492.6,496.1 1496.2,497.1 1500.0,497.8C1503.8,498.5 1507.5,498.9 1512.5,499.2C1517.5,499.6 1524.2,499.9 1530.0,500.0C1535.8,500.1 1544.6,500.0 1547.5,500.0" fill="none" stroke="#1a1718" stroke-width="2" stroke-linejoin="round" stroke-dasharray="2.5,3.6"/>
<path d="M1550.0,445.0C1550.5,443.3 1550.7,442.6 1551.5,442.0C1552.3,441.4 1552.8,440.8 1555.0,441.2C1557.2,441.8 1561.7,443.5 1565.0,445.0C1568.3,446.5 1570.8,448.0 1575.0,450.0C1579.2,452.0 1585.0,454.5 1590.0,457.0C1595.0,459.5 1601.8,463.0 1605.0,465.0C1608.2,467.0 1608.0,467.2 1609.0,469.0C1610.0,470.8 1610.8,473.3 1611.2,476.0C1611.7,478.7 1611.7,481.8 1611.5,485.0C1611.3,488.2 1610.8,491.8 1610.0,495.0C1609.2,498.2 1608.2,501.3 1607.0,504.0C1605.8,506.7 1604.0,509.7 1602.5,511.2C1601.0,512.8 1600.1,513.3 1598.0,513.5C1595.9,513.7 1593.8,513.5 1590.0,512.5C1586.2,511.5 1579.7,509.3 1575.0,507.5C1570.3,505.7 1565.7,503.3 1562.0,501.5C1558.3,499.7 1555.2,498.2 1553.0,496.5C1550.8,494.8 1549.5,494.2 1548.5,491.5C1547.5,488.8 1547.5,484.4 1547.3,480.0C1547.1,475.6 1547.3,469.7 1547.5,465.0C1547.7,460.3 1548.1,455.3 1548.5,452.0C1548.9,448.7 1549.5,446.7 1550.0,445.0Z" fill="#29abe2" stroke="#1a1718" stroke-width="2" stroke-linejoin="round"/>
<path d="M1463.8,557.5C1463.2,555.6 1464.3,553.3 1467.0,551.5C1469.7,549.7 1474.5,547.8 1480.0,546.5C1485.5,545.2 1493.7,544.0 1500.0,543.8C1506.3,543.5 1512.8,544.1 1518.0,545.0C1523.2,545.9 1528.0,547.3 1531.0,549.0C1534.0,550.7 1535.5,553.0 1536.3,555.0C1537.0,557.0 1536.7,559.4 1535.5,561.0C1534.3,562.6 1532.4,563.4 1529.0,564.5C1525.6,565.6 1519.8,566.8 1515.0,567.5C1510.2,568.2 1505.3,568.8 1500.0,568.8C1494.7,568.7 1488.0,568.0 1483.0,567.0C1478.0,566.0 1473.2,564.6 1470.0,563.0C1466.8,561.4 1464.2,559.4 1463.8,557.5Z" fill="none" stroke="#1a1718" stroke-width="2" stroke-linejoin="round" stroke-dasharray="2.5,3.6"/>
<path d="M1503.8,576.5C1503.9,574.5 1504.1,573.1 1505.0,572.0C1505.9,570.9 1506.2,570.8 1509.0,570.0C1511.8,569.2 1517.7,568.2 1522.0,567.5C1526.3,566.8 1532.1,565.8 1535.0,565.8C1537.9,565.7 1538.5,566.1 1539.5,567.0C1540.5,567.9 1540.9,569.4 1541.2,571.2C1541.6,573.1 1541.5,575.7 1541.5,578.0C1541.5,580.3 1541.5,583.4 1541.0,585.0C1540.5,586.6 1540.3,586.9 1538.5,587.5C1536.7,588.1 1533.4,588.2 1530.0,588.5C1526.6,588.8 1521.3,589.1 1518.0,589.3C1514.7,589.5 1512.0,589.7 1510.0,589.5C1508.0,589.3 1507.0,588.9 1506.0,588.0C1505.0,587.1 1504.7,585.9 1504.3,584.0C1503.9,582.1 1503.6,578.5 1503.8,576.5Z" fill="none" stroke="#1a1718" stroke-width="2" stroke-linejoin="round"/>
<path d="M1676,491.75L1907,491.75M1699,496.5L1980,496.5M1738,498.5L1900,498.5M1790,502.25L1881,502.25M1801,509L1880,509M1795,494L1890,494M1902.5,523.25L1950.5,523.25M1945.75,511L1978,511M1843,500L1843,520" stroke="#1a1718" stroke-width="1.4" fill="none"/>
<circle cx="1764.5" cy="491.25" r="8.8" fill="#ed1c24" stroke="#1a1718" stroke-width="1.9"/>
<circle cx="1797" cy="498.75" r="8.8" fill="#ed1c24" stroke="#1a1718" stroke-width="1.9"/>
<circle cx="1802.6" cy="496.5" r="8.8" fill="#ed1c24" stroke="#1a1718" stroke-width="1.9"/>
<circle cx="1821" cy="491.75" r="8.8" fill="#ed1c24" stroke="#1a1718" stroke-width="1.9"/>
<circle cx="1833" cy="494.4" r="8.8" fill="#ed1c24" stroke="#1a1718" stroke-width="1.9"/>
<circle cx="1844" cy="495.25" r="8.8" fill="#ed1c24" stroke="#1a1718" stroke-width="1.9"/>
<circle cx="1854" cy="493.5" r="8.8" fill="#ed1c24" stroke="#1a1718" stroke-width="1.9"/>
<circle cx="1863.5" cy="492.6" r="8.8" fill="#ed1c24" stroke="#1a1718" stroke-width="1.9"/>
<circle cx="1867" cy="497" r="8.8" fill="#ed1c24" stroke="#1a1718" stroke-width="1.9"/>
<circle cx="1822.4" cy="500.5" r="8.8" fill="#ed1c24" stroke="#1a1718" stroke-width="1.9"/>
<circle cx="1858" cy="498" r="8.8" fill="#ed1c24" stroke="#1a1718" stroke-width="1.9"/>
<circle cx="1838" cy="509" r="8.8" fill="#fcee21" stroke="#1a1718" stroke-width="1.9"/>
<circle cx="1843.4" cy="507.5" r="8.8" fill="#fcee21" stroke="#1a1718" stroke-width="1.9"/>
<circle cx="1835.5" cy="498.75" r="8.8" fill="#fcee21" stroke="#1a1718" stroke-width="1.9"/>
<circle cx="1926.2" cy="523.25" r="8.8" fill="#fcee21" stroke="#1a1718" stroke-width="1.9"/>
<circle cx="1963.3" cy="511" r="8.8" fill="#fcee21" stroke="#1a1718" stroke-width="1.9"/>
<rect x="1105.9" y="18.4" width="874.5" height="606.0" fill="none" stroke="#1a1718" stroke-width="2.7"/>
<text x="1108.3" y="658.7" font-size="31.8" text-anchor="middle" textLength="32.1" lengthAdjust="spacingAndGlyphs" fill="#0a0a0a">12</text>
<text x="1175.6" y="658.7" font-size="31.8" text-anchor="middle" textLength="32.1" lengthAdjust="spacingAndGlyphs" fill="#0a0a0a">14</text>
<text x="1242.9" y="658.7" font-size="31.8" text-anchor="middle" textLength="32.1" lengthAdjust="spacingAndGlyphs" fill="#0a0a0a">16</text>
<text x="1310.2" y="658.7" font-size="31.8" text-anchor="middle" textLength="32.1" lengthAdjust="spacingAndGlyphs" fill="#0a0a0a">18</text>
<text x="1377.5" y="658.7" font-size="31.8" text-anchor="middle" textLength="32.1" lengthAdjust="spacingAndGlyphs" fill="#0a0a0a">20</text>
<text x="1444.8" y="658.7" font-size="31.8" text-anchor="middle" textLength="32.1" lengthAdjust="spacingAndGlyphs" fill="#0a0a0a">22</text>
<text x="1512.0" y="658.7" font-size="31.8" text-anchor="middle" textLength="32.1" lengthAdjust="spacingAndGlyphs" fill="#0a0a0a">24</text>
<text x="1579.3" y="658.7" font-size="31.8" text-anchor="middle" textLength="32.1" lengthAdjust="spacingAndGlyphs" fill="#0a0a0a">26</text>
<text x="1646.6" y="658.7" font-size="31.8" text-anchor="middle" textLength="32.1" lengthAdjust="spacingAndGlyphs" fill="#0a0a0a">28</text>
<text x="1713.9" y="658.7" font-size="31.8" text-anchor="middle" textLength="32.1" lengthAdjust="spacingAndGlyphs" fill="#0a0a0a">30</text>
<text x="1781.2" y="658.7" font-size="31.8" text-anchor="middle" textLength="32.1" lengthAdjust="spacingAndGlyphs" fill="#0a0a0a">32</text>
<text x="1848.5" y="658.7" font-size="31.8" text-anchor="middle" textLength="32.1" lengthAdjust="spacingAndGlyphs" fill="#0a0a0a">34</text>
<text x="1915.8" y="658.7" font-size="31.8" text-anchor="middle" textLength="32.1" lengthAdjust="spacingAndGlyphs" fill="#0a0a0a">36</text>
<text x="1983.1" y="658.7" font-size="31.8" text-anchor="middle" textLength="32.1" lengthAdjust="spacingAndGlyphs" fill="#0a0a0a">38</text>
<text x="1096.8" y="632.1" font-size="31.8" text-anchor="end" textLength="16.1" lengthAdjust="spacingAndGlyphs" fill="#0a0a0a">0</text>
<text x="1096.8" y="531.1" font-size="31.8" text-anchor="end" textLength="32.1" lengthAdjust="spacingAndGlyphs" fill="#0a0a0a">40</text>
<text x="1096.8" y="430.1" font-size="31.8" text-anchor="end" textLength="32.1" lengthAdjust="spacingAndGlyphs" fill="#0a0a0a">80</text>
<text x="1096.8" y="329.1" font-size="31.8" text-anchor="end" textLength="48.2" lengthAdjust="spacingAndGlyphs" fill="#0a0a0a">120</text>
<text x="1096.8" y="228.1" font-size="31.8" text-anchor="end" textLength="48.2" lengthAdjust="spacingAndGlyphs" fill="#0a0a0a">160</text>
<text x="1096.8" y="127.1" font-size="31.8" text-anchor="end" textLength="48.2" lengthAdjust="spacingAndGlyphs" fill="#0a0a0a">200</text>
<text x="1096.8" y="26.1" font-size="31.8" text-anchor="end" textLength="48.2" lengthAdjust="spacingAndGlyphs" fill="#0a0a0a">240</text>
<text x="1202.5" y="385" font-size="28.5" textLength="70.0" lengthAdjust="spacingAndGlyphs" fill="#0a0a0a">Young</text>
<text x="1188.8" y="422.5" font-size="28.5" textLength="97.5" lengthAdjust="spacingAndGlyphs" fill="#0a0a0a">Santorini</text>
<text x="1391.2" y="368.8" font-size="29.5" textLength="32.5" lengthAdjust="spacingAndGlyphs" fill="#0a0a0a">NK</text>
<text x="1132" y="513.8" font-size="29" textLength="115.5" lengthAdjust="spacingAndGlyphs" fill="#0a0a0a">Kolumbo</text>
<text x="1347.5" y="517.5" font-size="29.5" textLength="46.2" lengthAdjust="spacingAndGlyphs" fill="#0a0a0a">YA2</text>
<text x="1125.5" y="583.8" font-size="29.5" textLength="48.2" lengthAdjust="spacingAndGlyphs" fill="#0a0a0a">MTT</text>
<text x="1335" y="578.8" font-size="29.5" textLength="47.5" lengthAdjust="spacingAndGlyphs" fill="#0a0a0a">MFT</text>
<text x="1327.5" y="613.8" font-size="29.5" textLength="45.0" lengthAdjust="spacingAndGlyphs" fill="#0a0a0a">KPT</text>
<text x="1588" y="444.5" font-size="29" textLength="92.5" lengthAdjust="spacingAndGlyphs" fill="#0a0a0a">Akrotiri</text>
<text x="1493" y="465" font-size="29.5" textLength="30" lengthAdjust="spacingAndGlyphs" fill="#0a0a0a">N4</text>
<text x="1546.2" y="556.2" font-size="29.5" textLength="28.0" lengthAdjust="spacingAndGlyphs" fill="#0a0a0a">N1</text>
<text x="1552" y="597.5" font-size="29.5" textLength="43.8" lengthAdjust="spacingAndGlyphs" fill="#0a0a0a">YA1</text>
<text x="1603.8" y="137.5" font-size="29" textLength="125.8" lengthAdjust="spacingAndGlyphs" fill="#0a0a0a">Christiana</text>
<text x="1900.7" y="76.8" font-size="41" textLength="52.3" lengthAdjust="spacingAndGlyphs" fill="#0a0a0a">(b)</text>
<text x="1551" y="708" font-size="37.7" text-anchor="middle" fill="#0a0a0a">Ba/La</text>
<text x="1038" y="314.25" font-size="37.7" text-anchor="middle" transform="rotate(-90 1038 314.25)" fill="#0a0a0a">Zr/Cs</text>
</g>
<g id="panel-c">
<path d="M167.30,731.5v13.3M167.30,1338.9v-13.3M312.53,731.5v13.3M312.53,1338.9v-13.3M457.76,731.5v13.3M457.76,1338.9v-13.3M602.99,731.5v13.3M602.99,1338.9v-13.3M748.22,731.5v13.3M748.22,1338.9v-13.3M893.45,731.5v13.3M893.45,1338.9v-13.3M239.92,731.5v6.9M239.92,1338.9v-6.9M385.14,731.5v6.9M385.14,1338.9v-6.9M530.38,731.5v6.9M530.38,1338.9v-6.9M675.61,731.5v6.9M675.61,1338.9v-6.9M820.84,731.5v6.9M820.84,1338.9v-6.9M93.3,1252.13h13.3M966.7,1252.13h-13.3M93.3,1165.36h13.3M966.7,1165.36h-13.3M93.3,1078.59h13.3M966.7,1078.59h-13.3M93.3,991.81h13.3M966.7,991.81h-13.3M93.3,905.04h13.3M966.7,905.04h-13.3M93.3,818.27h13.3M966.7,818.27h-13.3M93.3,1295.51h6.9M966.7,1295.51h-6.9M93.3,1208.74h6.9M966.7,1208.74h-6.9M93.3,1121.97h6.9M966.7,1121.97h-6.9M93.3,1035.20h6.9M966.7,1035.20h-6.9M93.3,948.43h6.9M966.7,948.43h-6.9M93.3,861.66h6.9M966.7,861.66h-6.9M93.3,774.89h6.9M966.7,774.89h-6.9" stroke="#1a1718" stroke-width="2.7" fill="none"/>
<path d="M230.0,796.2C227.7,796.2 225.1,797.0 223.0,798.0C220.9,799.0 219.3,800.5 217.5,802.5C215.7,804.5 213.7,807.5 212.0,810.0C210.3,812.5 209.2,815.0 207.5,817.5C205.8,820.0 203.7,822.7 202.0,825.0C200.3,827.3 199.2,829.8 197.5,831.2C195.8,832.8 194.1,833.3 192.0,834.0C189.9,834.7 188.3,835.2 185.0,835.5C181.7,835.8 176.2,835.9 172.0,836.0C167.8,836.1 162.9,835.8 160.0,836.2C157.1,836.7 156.0,837.5 154.5,838.5C153.0,839.5 152.3,840.2 151.2,842.5C150.2,844.8 149.0,848.2 148.0,852.0C147.0,855.8 145.8,860.7 145.0,865.0C144.2,869.3 143.6,873.8 143.0,878.0C142.4,882.2 141.8,885.8 141.2,890.0C140.7,894.2 140.0,899.2 139.5,903.0C139.0,906.8 138.2,910.2 138.2,913.0C138.3,915.8 138.9,918.0 140.0,920.0C141.1,922.0 142.5,923.2 145.0,925.0C147.5,926.8 151.7,928.9 155.0,931.0C158.3,933.1 162.0,934.7 165.0,937.5C168.0,940.3 170.5,944.2 173.0,948.0C175.5,951.8 178.0,956.2 180.0,960.0C182.0,963.8 183.5,967.2 185.0,971.0C186.5,974.8 188.3,979.3 188.8,982.5C189.2,985.7 188.1,987.9 187.5,990.0C186.9,992.1 185.9,993.3 185.0,995.0C184.1,996.7 182.6,998.2 182.0,1000.0C181.4,1001.8 181.2,1003.5 181.2,1006.0C181.2,1008.5 181.6,1012.2 182.0,1015.0C182.4,1017.8 182.9,1020.2 183.8,1022.5C184.6,1024.8 185.5,1027.0 187.0,1028.5C188.5,1030.0 190.3,1031.0 192.5,1031.2C194.7,1031.5 197.5,1031.0 200.0,1030.0C202.5,1029.0 204.5,1027.7 207.5,1025.0C210.5,1022.3 214.2,1017.8 218.0,1014.0C221.8,1010.2 227.0,1005.8 230.0,1002.5C233.0,999.2 234.5,996.8 236.0,994.0C237.5,991.2 238.3,989.0 238.8,986.0C239.2,983.0 238.7,979.1 238.5,976.0C238.3,972.9 238.0,970.2 237.5,967.5C237.0,964.8 235.8,962.1 235.5,960.0C235.2,957.9 235.2,956.3 236.0,955.0C236.8,953.7 237.8,953.2 240.0,952.0C242.2,950.8 246.1,949.4 249.0,948.0C251.9,946.6 255.0,945.5 257.5,943.8C260.0,942.0 261.9,939.8 264.0,937.5C266.1,935.2 268.5,932.8 270.0,930.0C271.5,927.2 272.2,923.9 273.0,921.0C273.8,918.1 274.4,915.5 274.5,912.5C274.6,909.5 273.8,905.9 273.5,903.0C273.2,900.1 272.4,897.3 272.5,895.0C272.6,892.7 273.2,890.7 274.0,889.0C274.8,887.3 275.7,886.2 277.5,885.0C279.3,883.8 282.1,882.5 285.0,881.5C287.9,880.5 290.5,880.1 295.0,879.2C299.5,878.4 306.2,877.4 312.0,876.5C317.8,875.6 324.3,874.9 330.0,873.8C335.7,872.6 341.0,871.0 346.0,869.5C351.0,868.0 356.5,866.3 360.0,865.0C363.5,863.7 365.1,862.7 367.0,861.5C368.9,860.3 370.8,859.2 371.2,858.0C371.8,856.8 371.0,855.3 370.0,854.0C369.0,852.7 367.3,851.5 365.0,850.0C362.7,848.5 359.3,846.7 356.0,845.0C352.7,843.3 349.3,841.7 345.0,840.0C340.7,838.3 335.4,836.7 330.0,835.0C324.6,833.3 318.3,831.7 312.5,830.0C306.7,828.3 301.2,826.7 295.0,825.0C288.8,823.3 280.3,821.4 275.0,820.0C269.7,818.6 266.3,817.5 263.0,816.5C259.7,815.5 257.3,815.2 255.0,814.2C252.7,813.2 250.7,811.8 249.0,810.5C247.3,809.2 246.3,807.7 245.0,806.2C243.7,804.8 242.3,803.4 241.0,802.0C239.7,800.6 238.8,799.0 237.0,798.0C235.2,797.0 232.3,796.2 230.0,796.2Z" fill="#c7b299" stroke="#1a1718" stroke-width="2" stroke-linejoin="round"/>
<path d="M346.2,878.0C346.2,876.7 346.5,875.5 348.0,874.5C349.5,873.5 352.7,872.6 355.0,872.0C357.3,871.4 359.5,871.2 362.0,871.0C364.5,870.8 364.5,870.5 370.0,870.8C375.5,871.0 385.8,871.8 395.0,872.5C404.2,873.2 414.2,873.9 425.0,875.0C435.8,876.1 447.5,877.5 460.0,879.0C472.5,880.5 488.3,882.4 500.0,883.8C511.7,885.1 521.7,886.0 530.0,887.0C538.3,888.0 543.3,888.9 550.0,890.0C556.7,891.1 563.8,892.2 570.0,893.5C576.2,894.8 583.2,896.2 587.5,897.5C591.8,898.8 593.8,899.6 596.0,901.0C598.2,902.4 599.5,903.7 600.5,906.0C601.5,908.3 602.2,911.8 602.0,915.0C601.8,918.2 600.2,921.7 599.0,925.0C597.8,928.3 596.7,931.9 595.0,935.0C593.3,938.1 591.1,941.0 589.0,943.5C586.9,946.0 585.2,948.0 582.5,950.0C579.8,952.0 576.3,953.8 573.0,955.5C569.7,957.2 567.2,958.4 562.5,960.0C557.8,961.6 551.2,963.3 545.0,965.0C538.8,966.7 529.5,969.2 525.0,970.0C520.5,970.8 520.5,970.2 518.0,970.0C515.5,969.8 513.0,969.3 510.0,968.5C507.0,967.7 505.8,967.6 500.0,965.0C494.2,962.4 483.3,957.2 475.0,953.0C466.7,948.8 458.3,944.4 450.0,940.0C441.7,935.6 433.3,931.1 425.0,926.5C416.7,921.9 408.3,917.2 400.0,912.5C391.7,907.8 382.5,902.7 375.0,898.5C367.5,894.3 359.5,890.2 355.0,887.5C350.5,884.8 349.5,884.1 348.0,882.5C346.5,880.9 346.2,879.3 346.2,878.0Z" fill="#f15a24" stroke="#1a1718" stroke-width="2" stroke-linejoin="round"/>
<path d="M310.0,1161.8C308.4,1161.6 306.7,1162.0 305.0,1163.0C303.3,1164.0 301.8,1165.3 300.0,1167.5C298.2,1169.7 296.1,1173.1 294.0,1176.0C291.9,1178.9 289.3,1182.6 287.5,1185.0C285.7,1187.4 284.0,1188.8 283.0,1190.5C282.0,1192.2 281.1,1193.2 281.2,1195.0C281.4,1196.8 282.5,1199.1 284.0,1201.0C285.5,1202.9 287.3,1204.6 290.0,1206.2C292.7,1207.9 296.2,1209.8 300.0,1211.0C303.8,1212.2 308.8,1213.2 312.5,1213.8C316.2,1214.3 319.1,1214.5 322.0,1214.5C324.9,1214.5 328.2,1214.5 330.0,1213.8C331.8,1213.0 332.2,1211.6 332.5,1210.0C332.8,1208.4 332.8,1206.8 332.0,1204.0C331.2,1201.2 329.6,1197.0 328.0,1193.0C326.4,1189.0 324.2,1183.8 322.5,1180.0C320.8,1176.2 319.3,1172.7 318.0,1170.0C316.7,1167.3 315.8,1165.4 314.5,1164.0C313.2,1162.6 311.6,1161.9 310.0,1161.8Z" fill="#29abe2" stroke="#1a1718" stroke-width="2" stroke-linejoin="round"/>
<path d="M241.2,1246.0C241.6,1244.3 242.0,1241.8 243.0,1240.0C244.0,1238.2 246.0,1236.3 247.5,1235.0C249.0,1233.7 250.3,1232.6 252.0,1232.0C253.7,1231.4 255.5,1231.2 257.5,1231.2C259.5,1231.2 261.9,1231.4 264.0,1232.0C266.1,1232.6 268.2,1233.8 270.0,1235.0C271.8,1236.2 273.6,1237.8 275.0,1239.5C276.4,1241.2 277.8,1243.2 278.5,1245.0C279.2,1246.8 279.7,1248.5 279.5,1250.0C279.3,1251.5 279.1,1252.8 277.5,1253.8C275.9,1254.7 272.9,1255.1 270.0,1255.5C267.1,1255.9 263.3,1256.2 260.0,1256.2C256.7,1256.2 252.7,1256.0 250.0,1255.5C247.3,1255.0 245.2,1254.4 243.8,1253.5C242.2,1252.6 241.4,1251.2 241.0,1250.0C240.6,1248.8 240.9,1247.7 241.2,1246.0Z" fill="#d9e021" stroke="#1a1718" stroke-width="2" stroke-linejoin="round"/>
<path d="M123.8,1270.0C123.9,1267.9 124.8,1265.4 127.0,1263.5C129.2,1261.6 133.2,1259.6 137.0,1258.5C140.8,1257.4 145.7,1257.1 150.0,1257.0C154.3,1256.9 159.0,1257.0 163.0,1258.0C167.0,1259.0 171.4,1260.8 174.0,1263.0C176.6,1265.2 178.4,1268.3 178.8,1271.0C179.1,1273.7 177.8,1276.8 176.0,1279.0C174.2,1281.2 171.1,1282.8 168.0,1284.0C164.9,1285.2 161.3,1286.0 157.5,1286.2C153.7,1286.5 149.1,1286.3 145.0,1285.5C140.9,1284.7 136.2,1283.1 133.0,1281.5C129.8,1279.9 127.5,1277.9 126.0,1276.0C124.5,1274.1 123.6,1272.1 123.8,1270.0Z" fill="none" stroke="#1a1718" stroke-width="2" stroke-linejoin="round" stroke-dasharray="10,6.5"/>
<path d="M225.0,1300.0C225.1,1298.4 226.2,1297.0 227.5,1296.0C228.8,1295.0 230.4,1294.4 232.5,1293.8C234.6,1293.1 237.4,1292.5 240.0,1292.2C242.6,1291.9 246.0,1291.6 248.0,1292.0C250.0,1292.4 251.2,1293.2 252.0,1294.5C252.8,1295.8 253.1,1297.9 253.0,1300.0C252.9,1302.1 252.2,1304.7 251.5,1307.0C250.8,1309.3 249.8,1312.1 248.8,1313.8C247.8,1315.4 246.8,1316.4 245.5,1317.0C244.2,1317.6 242.8,1317.8 241.2,1317.5C239.7,1317.2 237.7,1316.5 236.0,1315.5C234.3,1314.5 232.8,1312.9 231.2,1311.2C229.8,1309.6 228.0,1307.4 227.0,1305.5C226.0,1303.6 224.9,1301.6 225.0,1300.0Z" fill="none" stroke="#1a1718" stroke-width="2" stroke-linejoin="round"/>
<path d="M315.5,1234.0C315.4,1231.9 315.9,1229.8 317.0,1228.0C318.1,1226.2 319.8,1224.2 322.0,1223.0C324.2,1221.8 326.2,1220.7 330.0,1220.5C333.8,1220.3 340.0,1220.9 345.0,1222.0C350.0,1223.1 355.8,1225.2 360.0,1227.0C364.2,1228.8 367.9,1231.1 370.0,1233.0C372.1,1234.9 372.7,1237.0 372.5,1238.5C372.3,1240.0 371.9,1241.2 369.0,1242.0C366.1,1242.8 360.2,1243.2 355.0,1243.5C349.8,1243.8 342.7,1243.8 337.5,1243.8C332.3,1243.8 327.3,1244.0 324.0,1243.5C320.7,1243.0 318.9,1242.1 317.5,1240.5C316.1,1238.9 315.6,1236.1 315.5,1234.0Z" fill="none" stroke="#1a1718" stroke-width="2" stroke-linejoin="round" stroke-dasharray="9,6"/>
<path d="M395.0,1184.0C394.8,1182.3 395.8,1180.5 397.0,1179.0C398.2,1177.5 400.3,1176.1 402.5,1175.0C404.7,1173.9 407.5,1173.0 410.0,1172.5C412.5,1172.0 414.8,1171.7 417.5,1171.8C420.2,1171.8 423.1,1172.2 426.0,1173.0C428.9,1173.8 432.4,1174.9 435.0,1176.2C437.6,1177.6 439.6,1179.2 441.5,1181.0C443.4,1182.8 445.1,1184.8 446.2,1187.0C447.4,1189.2 447.9,1191.8 448.5,1194.0C449.1,1196.2 450.0,1198.4 450.0,1200.0C450.0,1201.6 449.3,1202.8 448.5,1203.5C447.7,1204.2 447.2,1204.5 445.0,1204.5C442.8,1204.5 438.3,1204.0 435.0,1203.5C431.7,1203.0 428.3,1202.2 425.0,1201.2C421.7,1200.3 418.3,1199.2 415.0,1198.0C411.7,1196.8 407.8,1195.2 405.0,1193.8C402.2,1192.2 399.7,1190.6 398.0,1189.0C396.3,1187.4 395.2,1185.7 395.0,1184.0Z" fill="none" stroke="#1a1718" stroke-width="2" stroke-linejoin="round"/>
<path d="M402.5,1205.0C402.8,1203.2 403.8,1200.7 405.0,1199.0C406.2,1197.3 408.0,1196.2 410.0,1195.0C412.0,1193.8 414.5,1192.7 417.0,1192.0C419.5,1191.3 422.3,1190.6 425.0,1190.8C427.7,1190.9 430.5,1191.9 433.0,1193.0C435.5,1194.1 437.8,1195.8 440.0,1197.5C442.2,1199.2 444.3,1201.4 446.0,1203.5C447.7,1205.6 448.9,1207.9 450.0,1210.0C451.1,1212.1 452.0,1214.0 452.5,1216.0C453.0,1218.0 453.4,1220.3 453.0,1222.0C452.6,1223.7 451.3,1225.1 450.0,1226.0C448.7,1226.9 447.5,1227.6 445.0,1227.5C442.5,1227.4 438.3,1226.3 435.0,1225.5C431.7,1224.7 428.3,1223.7 425.0,1222.5C421.7,1221.3 417.9,1220.0 415.0,1218.5C412.1,1217.0 409.4,1215.2 407.5,1213.8C405.6,1212.2 404.3,1211.0 403.5,1209.5C402.7,1208.0 402.2,1206.8 402.5,1205.0Z" fill="none" stroke="#1a1718" stroke-width="2" stroke-linejoin="round" stroke-dasharray="2.5,3.6"/>
<path d="M416.2,1255.0C416.4,1253.4 417.0,1251.2 418.0,1249.5C419.0,1247.8 420.5,1246.3 422.5,1245.0C424.5,1243.7 427.1,1242.5 430.0,1241.5C432.9,1240.5 437.0,1239.3 440.0,1238.8C443.0,1238.2 445.5,1238.0 448.0,1238.2C450.5,1238.4 453.2,1239.1 455.0,1240.0C456.8,1240.9 457.9,1242.2 458.5,1243.5C459.1,1244.8 459.2,1246.3 458.8,1248.0C458.2,1249.7 457.0,1251.7 455.5,1253.5C454.0,1255.3 452.2,1257.2 450.0,1258.8C447.8,1260.2 444.9,1261.5 442.0,1262.5C439.1,1263.5 435.3,1264.2 432.5,1264.5C429.7,1264.8 427.1,1264.6 425.0,1264.3C422.9,1264.0 421.3,1263.4 420.0,1262.5C418.7,1261.6 417.6,1260.2 417.0,1259.0C416.4,1257.8 416.1,1256.6 416.2,1255.0Z" fill="none" stroke="#1a1718" stroke-width="2" stroke-linejoin="round"/>
<path d="M456.4,1129.5C456.3,1127.5 457.1,1124.9 459.0,1123.0C460.9,1121.1 464.7,1119.4 468.0,1118.0C471.3,1116.6 475.3,1115.5 479.0,1114.8C482.7,1114.1 486.0,1113.6 490.0,1113.6C494.0,1113.5 498.7,1113.8 503.0,1114.5C507.3,1115.2 511.7,1116.1 516.0,1117.5C520.3,1118.9 525.6,1121.2 529.0,1123.0C532.4,1124.8 535.0,1126.7 536.5,1128.5C538.0,1130.3 538.1,1132.1 538.0,1134.0C537.9,1135.9 537.0,1138.4 536.0,1140.0C535.0,1141.6 534.0,1143.0 532.0,1143.6C530.0,1144.1 527.7,1143.7 524.0,1143.3C520.3,1142.9 514.5,1141.6 510.0,1141.0C505.5,1140.4 501.2,1139.7 497.0,1139.5C492.8,1139.3 488.8,1139.6 485.0,1139.6C481.2,1139.6 477.2,1139.5 474.0,1139.3C470.8,1139.1 468.4,1139.2 466.0,1138.5C463.6,1137.8 461.1,1136.5 459.5,1135.0C457.9,1133.5 456.5,1131.5 456.4,1129.5Z" fill="none" stroke="#1a1718" stroke-width="2" stroke-linejoin="round" stroke-dasharray="2.5,3.6"/>
<path d="M791.5,1134.0C791.7,1132.4 793.4,1130.3 796.0,1128.0C798.6,1125.7 803.0,1122.5 807.0,1120.0C811.0,1117.5 815.2,1115.0 820.0,1113.0C824.8,1111.0 830.5,1109.2 836.0,1108.0C841.5,1106.8 848.0,1105.7 853.0,1105.5C858.0,1105.3 862.5,1106.2 866.0,1107.0C869.5,1107.8 872.1,1109.0 874.0,1110.5C875.9,1112.0 876.8,1114.1 877.3,1116.0C877.8,1117.9 877.7,1120.2 877.3,1122.0C876.9,1123.8 876.7,1125.5 875.0,1127.0C873.3,1128.5 871.2,1129.6 867.0,1131.0C862.8,1132.4 855.3,1134.4 850.0,1135.5C844.7,1136.6 840.0,1136.9 835.0,1137.5C830.0,1138.1 825.0,1138.7 820.0,1139.0C815.0,1139.3 809.2,1139.5 805.0,1139.3C800.8,1139.0 797.2,1138.4 795.0,1137.5C792.8,1136.6 791.3,1135.6 791.5,1134.0Z" fill="none" stroke="#1a1718" stroke-width="2" stroke-linejoin="round" stroke-dasharray="2.5,3.6"/>
<path d="M349,1193L349,1200M351.5,1193L351.5,1200M360,1210.5L368.5,1210.5M362,1229L366,1233" stroke="#1a1718" stroke-width="1.9" fill="none"/>
<circle cx="353" cy="1205" r="7.8" fill="#ed1c24" stroke="#1a1718" stroke-width="1.9"/>
<circle cx="346" cy="1209" r="7.8" fill="#ed1c24" stroke="#1a1718" stroke-width="1.9"/>
<circle cx="336.5" cy="1213" r="7.8" fill="#ed1c24" stroke="#1a1718" stroke-width="1.9"/>
<circle cx="358" cy="1215" r="7.8" fill="#ed1c24" stroke="#1a1718" stroke-width="1.9"/>
<circle cx="360" cy="1220" r="7.8" fill="#ed1c24" stroke="#1a1718" stroke-width="1.9"/>
<circle cx="355" cy="1212" r="7.8" fill="#ed1c24" stroke="#1a1718" stroke-width="1.9"/>
<circle cx="338" cy="1239" r="7.8" fill="#fcee21" stroke="#1a1718" stroke-width="1.9"/>
<circle cx="352" cy="1226" r="7.8" fill="#fcee21" stroke="#1a1718" stroke-width="1.9"/>
<circle cx="337" cy="1232" r="7.8" fill="#fcee21" stroke="#1a1718" stroke-width="1.9"/>
<circle cx="346" cy="1218" r="7.8" fill="#fcee21" stroke="#1a1718" stroke-width="1.9"/>
<rect x="93.3" y="731.5" width="873.4000000000001" height="607.4000000000001" fill="none" stroke="#1a1718" stroke-width="2.7"/>
<text x="170.3" y="1379.2" font-size="31.3" text-anchor="middle" textLength="33.8" lengthAdjust="spacingAndGlyphs" fill="#0a0a0a">20</text>
<text x="315.5" y="1379.2" font-size="31.3" text-anchor="middle" textLength="33.8" lengthAdjust="spacingAndGlyphs" fill="#0a0a0a">40</text>
<text x="460.8" y="1379.2" font-size="31.3" text-anchor="middle" textLength="33.8" lengthAdjust="spacingAndGlyphs" fill="#0a0a0a">60</text>
<text x="606.0" y="1379.2" font-size="31.3" text-anchor="middle" textLength="33.8" lengthAdjust="spacingAndGlyphs" fill="#0a0a0a">80</text>
<text x="753.0" y="1379.2" font-size="31.3" text-anchor="middle" textLength="50.6" lengthAdjust="spacingAndGlyphs" fill="#0a0a0a">100</text>
<text x="898.2" y="1379.2" font-size="31.3" text-anchor="middle" textLength="50.6" lengthAdjust="spacingAndGlyphs" fill="#0a0a0a">120</text>
<text x="80" y="1346.1" font-size="31.3" text-anchor="end" textLength="16.9" lengthAdjust="spacingAndGlyphs" fill="#0a0a0a">0</text>
<text x="80" y="1259.3" font-size="31.3" text-anchor="end" textLength="16.9" lengthAdjust="spacingAndGlyphs" fill="#0a0a0a">5</text>
<text x="80" y="1172.6" font-size="31.3" text-anchor="end" textLength="33.8" lengthAdjust="spacingAndGlyphs" fill="#0a0a0a">10</text>
<text x="80" y="1085.8" font-size="31.3" text-anchor="end" textLength="33.8" lengthAdjust="spacingAndGlyphs" fill="#0a0a0a">15</text>
<text x="80" y="999.0" font-size="31.3" text-anchor="end" textLength="33.8" lengthAdjust="spacingAndGlyphs" fill="#0a0a0a">20</text>
<text x="80" y="912.2" font-size="31.3" text-anchor="end" textLength="33.8" lengthAdjust="spacingAndGlyphs" fill="#0a0a0a">25</text>
<text x="80" y="825.5" font-size="31.3" text-anchor="end" textLength="33.8" lengthAdjust="spacingAndGlyphs" fill="#0a0a0a">30</text>
<text x="80" y="738.7" font-size="31.3" text-anchor="end" textLength="33.8" lengthAdjust="spacingAndGlyphs" fill="#0a0a0a">35</text>
<text x="172.5" y="880" font-size="28.5" textLength="70.0" lengthAdjust="spacingAndGlyphs" fill="#0a0a0a">Young</text>
<text x="158" y="916.2" font-size="28.5" textLength="97" lengthAdjust="spacingAndGlyphs" fill="#0a0a0a">Santorini</text>
<text x="443.8" y="926.2" font-size="29" textLength="125.0" lengthAdjust="spacingAndGlyphs" fill="#0a0a0a">Christiana</text>
<text x="241.2" y="1153.8" font-size="29" textLength="92.5" lengthAdjust="spacingAndGlyphs" fill="#0a0a0a">Akrotiri</text>
<text x="175" y="1222.5" font-size="29" textLength="114.5" lengthAdjust="spacingAndGlyphs" fill="#0a0a0a">Kolumbo</text>
<text x="127.5" y="1245.5" font-size="29.5" textLength="48.8" lengthAdjust="spacingAndGlyphs" fill="#0a0a0a">MTT</text>
<text x="264.5" y="1320" font-size="29.5" textLength="46.8" lengthAdjust="spacingAndGlyphs" fill="#0a0a0a">KPT</text>
<text x="343.8" y="1270.5" font-size="29.5" textLength="46.2" lengthAdjust="spacingAndGlyphs" fill="#0a0a0a">MFT</text>
<text x="388.8" y="1163.8" font-size="29.5" textLength="45.0" lengthAdjust="spacingAndGlyphs" fill="#0a0a0a">YA2</text>
<text x="462.5" y="1227.5" font-size="29.5" textLength="28.0" lengthAdjust="spacingAndGlyphs" fill="#0a0a0a">N1</text>
<text x="460" y="1276.2" font-size="29.5" textLength="43" lengthAdjust="spacingAndGlyphs" fill="#0a0a0a">YA1</text>
<text x="547" y="1123" font-size="29.5" textLength="29.4" lengthAdjust="spacingAndGlyphs" fill="#0a0a0a">N4</text>
<text x="886.6" y="1131.6" font-size="29.5" textLength="33.9" lengthAdjust="spacingAndGlyphs" fill="#0a0a0a">NK</text>
<text x="873.2" y="791.8" font-size="41" textLength="45.6" lengthAdjust="spacingAndGlyphs" fill="#0a0a0a">(c)</text>
<text x="532.5" y="1417" font-size="37.7" text-anchor="middle" fill="#0a0a0a">Ba/Th</text>
<text x="32.9" y="1033" font-size="37.7" text-anchor="middle" transform="rotate(-90 32.9 1033)" fill="#0a0a0a">Zr/Nb</text>
</g>
<g id="panel-d">
<path d="M1098.1,879.6H1969" stroke="#808080" stroke-width="3.6" stroke-dasharray="15.3,15.2" fill="none"/>
<path d="M1098.1,1032.3H1969" stroke="#808080" stroke-width="3.6" stroke-dasharray="15.3,15.2" fill="none"/>
<path d="M1098.1,1187H1969" stroke="#808080" stroke-width="3.6" stroke-dasharray="15.3,15.2" fill="none"/>
<path d="M1107.5,1004.0L1127.1,803.0L1146.6,1216.0L1166.2,1003.5L1185.8,1198.0L1205.3,1289.0L1224.9,1212.0L1244.5,1033.0L1264.1,782.0L1283.6,1098.0L1303.2,1078.0L1322.8,1069.0L1342.3,988.0L1361.9,777.0L1381.5,810.0L1401.0,929.0L1420.6,955.0L1440.2,989.0L1459.8,1023.0L1479.3,1057.0L1498.9,1101.0L1518.5,1083.5L1538.0,1087.0L1557.6,1085.5L1577.2,1079.0L1596.8,1074.0L1616.3,1055.0L1635.9,1056.0L1655.5,1055.0L1675.0,1041.0L1694.6,956.0L1714.2,832.0L1733.7,778.0L1753.3,762.5L1772.9,1119.0L1792.5,744.0L1812.0,878.0L1831.6,1322.0L1851.2,762.0L1870.7,1060.0L1890.3,903.0L1909.9,873.0L1929.4,895.0L1949.0,899.0L1968.6,1009.0" fill="none" stroke="#000" stroke-width="2.7" stroke-linejoin="round" stroke-linecap="round"/>
<path d="M1107.5,1032.0L1127.1,805.7L1146.6,1217.6L1166.2,1004.5L1185.8,1198.0L1205.3,1298.9L1224.9,1212.0L1244.5,1033.0L1264.1,793.0L1283.6,1098.0L1303.2,1078.5L1322.8,1069.0L1342.3,990.1L1361.9,782.6L1381.5,811.0L1401.0,933.8L1420.6,955.0L1440.2,991.7L1459.8,1024.6L1479.3,1059.0L1498.9,1101.6L1518.5,1087.5L1538.0,1092.6L1557.6,1086.1L1577.2,1082.1L1596.8,1074.0L1616.3,1058.6L1635.9,1058.8L1655.5,1058.6L1675.0,1044.7L1694.6,956.0L1714.2,832.0L1733.7,779.6L1753.3,762.5L1772.9,1119.1L1792.5,744.0L1812.0,878.0L1831.6,1322.0L1851.2,768.9L1870.7,1060.0L1890.3,903.0L1909.9,873.0L1929.4,899.0L1949.0,899.0L1968.6,1009.4" fill="none" stroke="#000" stroke-width="2.7" stroke-linejoin="round" stroke-linecap="round"/>
<path d="M1107.5,1004.0L1127.1,816.5L1146.6,1217.7L1166.2,1005.2L1185.8,1198.0L1205.3,1290.5L1224.9,1212.2L1244.5,1034.9L1264.1,802.2L1283.6,1098.0L1303.2,1078.0L1322.8,1069.0L1342.3,988.0L1361.9,779.5L1381.5,811.6L1401.0,929.0L1420.6,955.0L1440.2,989.9L1459.8,1023.3L1479.3,1059.8L1498.9,1110.1L1518.5,1086.9L1538.0,1088.9L1557.6,1088.4L1577.2,1083.3L1596.8,1074.0L1616.3,1062.2L1635.9,1061.3L1655.5,1058.4L1675.0,1045.2L1694.6,956.6L1714.2,833.3L1733.7,778.0L1753.3,765.1L1772.9,1119.0L1792.5,744.0L1812.0,878.0L1831.6,1322.0L1851.2,762.2L1870.7,1060.0L1890.3,903.0L1909.9,873.0L1929.4,895.0L1949.0,899.2L1968.6,1009.0" fill="none" stroke="#000" stroke-width="2.7" stroke-linejoin="round" stroke-linecap="round"/>
<path d="M1107.5,1032.0L1127.1,812.0L1146.6,1216.0L1166.2,1003.5L1185.8,1200.8L1205.3,1291.0L1224.9,1212.0L1244.5,1035.1L1264.1,806.0L1283.6,1100.7L1303.2,1079.7L1322.8,1069.0L1342.3,988.0L1361.9,778.5L1381.5,810.1L1401.0,935.1L1420.6,955.0L1440.2,989.0L1459.8,1029.4L1479.3,1060.3L1498.9,1101.0L1518.5,1086.3L1538.0,1087.0L1557.6,1088.3L1577.2,1088.2L1596.8,1082.2L1616.3,1060.6L1635.9,1056.2L1655.5,1055.7L1675.0,1041.0L1694.6,960.8L1714.2,837.6L1733.7,781.3L1753.3,763.2L1772.9,1119.0L1792.5,747.2L1812.0,880.1L1831.6,1324.5L1851.2,772.9L1870.7,1064.0L1890.3,906.8L1909.9,873.0L1929.4,897.4L1949.0,899.6L1968.6,1009.0" fill="none" stroke="#000" stroke-width="2.7" stroke-linejoin="round" stroke-linecap="round"/>
<path d="M1107.5,1004.0L1127.1,805.8L1146.6,1216.3L1166.2,1005.2L1185.8,1220.2L1205.3,1294.0L1224.9,1216.9L1244.5,1035.9L1264.1,807.5L1283.6,1100.5L1303.2,1078.4L1322.8,1069.4L1342.3,988.3L1361.9,777.7L1381.5,812.9L1401.0,936.7L1420.6,960.7L1440.2,992.1L1459.8,1027.5L1479.3,1064.6L1498.9,1101.0L1518.5,1088.2L1538.0,1094.8L1557.6,1091.8L1577.2,1086.4L1596.8,1078.2L1616.3,1055.2L1635.9,1063.4L1655.5,1056.1L1675.0,1046.8L1694.6,963.4L1714.2,836.5L1733.7,779.5L1753.3,769.4L1772.9,1120.2L1792.5,744.0L1812.0,878.0L1831.6,1322.0L1851.2,776.5L1870.7,1064.5L1890.3,903.0L1909.9,879.5L1929.4,902.1L1949.0,901.8L1968.6,1011.2" fill="none" stroke="#000" stroke-width="2.7" stroke-linejoin="round" stroke-linecap="round"/>
<path d="M1107.5,1032.0L1127.1,804.3L1146.6,1216.0L1166.2,1006.3L1185.8,1214.0L1205.3,1296.8L1224.9,1217.4L1244.5,1034.2L1264.1,807.5L1283.6,1107.4L1303.2,1078.9L1322.8,1070.1L1342.3,989.8L1361.9,779.6L1381.5,813.2L1401.0,930.9L1420.6,957.8L1440.2,989.5L1459.8,1030.6L1479.3,1060.3L1498.9,1106.6L1518.5,1088.3L1538.0,1095.7L1557.6,1089.0L1577.2,1089.6L1596.8,1079.6L1616.3,1060.7L1635.9,1061.3L1655.5,1055.0L1675.0,1044.3L1694.6,956.9L1714.2,832.0L1733.7,782.5L1753.3,763.3L1772.9,1119.8L1792.5,747.6L1812.0,879.3L1831.6,1323.0L1851.2,770.6L1870.7,1063.3L1890.3,908.4L1909.9,873.3L1929.4,899.2L1949.0,899.9L1968.6,1011.3" fill="none" stroke="#000" stroke-width="2.7" stroke-linejoin="round" stroke-linecap="round"/>
<path d="M1107.5,1004.0L1127.1,815.5L1146.6,1218.0L1166.2,1005.9L1185.8,1223.7L1205.3,1296.8L1224.9,1215.9L1244.5,1034.8L1264.1,798.6L1283.6,1106.8L1303.2,1081.2L1322.8,1072.4L1342.3,992.1L1361.9,792.2L1381.5,814.4L1401.0,938.2L1420.6,962.9L1440.2,991.6L1459.8,1028.1L1479.3,1068.3L1498.9,1113.4L1518.5,1084.8L1538.0,1088.3L1557.6,1090.0L1577.2,1080.0L1596.8,1077.3L1616.3,1056.0L1635.9,1064.0L1655.5,1060.0L1675.0,1049.2L1694.6,957.4L1714.2,846.1L1733.7,782.2L1753.3,763.8L1772.9,1120.9L1792.5,749.4L1812.0,878.6L1831.6,1326.0L1851.2,769.9L1870.7,1063.4L1890.3,910.7L1909.9,881.2L1929.4,896.4L1949.0,901.4L1968.6,1015.2" fill="none" stroke="#000" stroke-width="2.7" stroke-linejoin="round" stroke-linecap="round"/>
<path d="M1107.5,1032.0L1127.1,810.0L1146.6,1217.4L1166.2,1006.1L1185.8,1201.0L1205.3,1300.2L1224.9,1215.3L1244.5,1033.4L1264.1,795.5L1283.6,1107.0L1303.2,1082.2L1322.8,1070.0L1342.3,997.0L1361.9,791.1L1381.5,816.7L1401.0,931.0L1420.6,958.0L1440.2,990.3L1459.8,1030.9L1479.3,1061.3L1498.9,1104.2L1518.5,1088.3L1538.0,1097.5L1557.6,1094.7L1577.2,1083.4L1596.8,1077.2L1616.3,1067.7L1635.9,1063.8L1655.5,1060.0L1675.0,1042.6L1694.6,957.3L1714.2,847.2L1733.7,781.2L1753.3,763.9L1772.9,1121.2L1792.5,748.0L1812.0,880.5L1831.6,1322.7L1851.2,780.5L1870.7,1061.1L1890.3,910.3L1909.9,878.3L1929.4,898.7L1949.0,902.6L1968.6,1021.1" fill="none" stroke="#000" stroke-width="2.7" stroke-linejoin="round" stroke-linecap="round"/>
<path d="M1107.5,1004.0L1127.1,810.4L1146.6,1218.4L1166.2,1004.8L1185.8,1205.9L1205.3,1294.8L1224.9,1213.4L1244.5,1034.3L1264.1,797.6L1283.6,1104.0L1303.2,1084.5L1322.8,1071.9L1342.3,993.6L1361.9,782.6L1381.5,813.3L1401.0,931.0L1420.6,958.6L1440.2,990.8L1459.8,1031.2L1479.3,1065.6L1498.9,1106.3L1518.5,1089.6L1538.0,1098.6L1557.6,1088.3L1577.2,1091.5L1596.8,1082.0L1616.3,1063.4L1635.9,1068.0L1655.5,1058.6L1675.0,1047.2L1694.6,963.8L1714.2,854.6L1733.7,781.2L1753.3,771.3L1772.9,1120.8L1792.5,748.5L1812.0,879.6L1831.6,1324.2L1851.2,766.4L1870.7,1062.1L1890.3,904.9L1909.9,881.9L1929.4,898.7L1949.0,900.9L1968.6,1012.1" fill="none" stroke="#000" stroke-width="2.7" stroke-linejoin="round" stroke-linecap="round"/>
<path d="M1107.5,1032.0L1127.1,830.6L1146.6,1219.2L1166.2,1005.2L1185.8,1212.0L1205.3,1298.6L1224.9,1216.5L1244.5,1034.4L1264.1,804.6L1283.6,1104.5L1303.2,1086.5L1322.8,1076.7L1342.3,994.7L1361.9,785.1L1381.5,817.7L1401.0,934.9L1420.6,960.1L1440.2,991.5L1459.8,1028.8L1479.3,1065.7L1498.9,1112.2L1518.5,1087.8L1538.0,1095.0L1557.6,1088.2L1577.2,1085.6L1596.8,1078.6L1616.3,1063.3L1635.9,1059.5L1655.5,1056.8L1675.0,1046.1L1694.6,960.5L1714.2,848.5L1733.7,782.9L1753.3,771.3L1772.9,1120.9L1792.5,749.4L1812.0,881.2L1831.6,1324.7L1851.2,773.4L1870.7,1068.7L1890.3,906.1L1909.9,882.6L1929.4,902.9L1949.0,900.7L1968.6,1022.0" fill="none" stroke="#000" stroke-width="2.7" stroke-linejoin="round" stroke-linecap="round"/>
<path d="M1107.5,1004.0L1127.1,826.7L1146.6,1219.8L1166.2,1007.1L1185.8,1211.4L1205.3,1304.1L1224.9,1217.3L1244.5,1037.1L1264.1,818.9L1283.6,1112.7L1303.2,1084.5L1322.8,1076.8L1342.3,996.6L1361.9,793.6L1381.5,813.6L1401.0,932.9L1420.6,959.0L1440.2,995.9L1459.8,1027.1L1479.3,1071.0L1498.9,1114.2L1518.5,1092.6L1538.0,1097.1L1557.6,1095.9L1577.2,1089.5L1596.8,1078.6L1616.3,1069.3L1635.9,1069.0L1655.5,1060.3L1675.0,1049.0L1694.6,965.1L1714.2,840.0L1733.7,784.8L1753.3,767.7L1772.9,1119.9L1792.5,747.4L1812.0,881.0L1831.6,1324.3L1851.2,783.2L1870.7,1069.2L1890.3,909.4L1909.9,880.1L1929.4,902.2L1949.0,904.7L1968.6,1022.2" fill="none" stroke="#000" stroke-width="2.7" stroke-linejoin="round" stroke-linecap="round"/>
<path d="M1107.5,1032.0L1127.1,829.1L1146.6,1217.8L1166.2,1005.3L1185.8,1217.0L1205.3,1309.4L1224.9,1216.6L1244.5,1036.5L1264.1,796.1L1283.6,1104.1L1303.2,1082.9L1322.8,1075.9L1342.3,997.4L1361.9,794.7L1381.5,814.5L1401.0,938.9L1420.6,962.5L1440.2,997.7L1459.8,1027.9L1479.3,1072.7L1498.9,1110.2L1518.5,1096.8L1538.0,1101.3L1557.6,1090.0L1577.2,1090.1L1596.8,1090.5L1616.3,1072.5L1635.9,1066.4L1655.5,1059.4L1675.0,1046.8L1694.6,968.5L1714.2,844.4L1733.7,784.3L1753.3,767.5L1772.9,1121.0L1792.5,751.7L1812.0,879.6L1831.6,1327.2L1851.2,780.3L1870.7,1069.2L1890.3,911.7L1909.9,879.4L1929.4,906.6L1949.0,904.1L1968.6,1014.3" fill="none" stroke="#000" stroke-width="2.7" stroke-linejoin="round" stroke-linecap="round"/>
<path d="M1107.5,1004.0L1127.1,827.5L1146.6,1219.4L1166.2,1006.1L1185.8,1216.2L1205.3,1303.9L1224.9,1217.2L1244.5,1037.7L1264.1,798.4L1283.6,1113.9L1303.2,1087.4L1322.8,1073.0L1342.3,1000.0L1361.9,796.7L1381.5,818.9L1401.0,937.4L1420.6,962.4L1440.2,997.8L1459.8,1036.0L1479.3,1070.1L1498.9,1113.8L1518.5,1092.3L1538.0,1095.2L1557.6,1091.2L1577.2,1086.7L1596.8,1091.9L1616.3,1065.0L1635.9,1073.0L1655.5,1059.8L1675.0,1048.0L1694.6,965.3L1714.2,845.7L1733.7,783.6L1753.3,775.0L1772.9,1121.9L1792.5,751.4L1812.0,881.2L1831.6,1328.0L1851.2,790.0L1870.7,1067.4L1890.3,912.5L1909.9,878.5L1929.4,905.9L1949.0,904.4L1968.6,1024.0" fill="none" stroke="#000" stroke-width="2.7" stroke-linejoin="round" stroke-linecap="round"/>
<path d="M1107.5,1032.0L1127.1,824.5L1146.6,1218.2L1166.2,1008.0L1185.8,1218.2L1205.3,1307.6L1224.9,1217.9L1244.5,1036.1L1264.1,824.9L1283.6,1116.0L1303.2,1084.0L1322.8,1076.9L1342.3,995.5L1361.9,795.5L1381.5,816.2L1401.0,937.0L1420.6,961.3L1440.2,996.8L1459.8,1036.0L1479.3,1070.0L1498.9,1112.9L1518.5,1097.0L1538.0,1102.0L1557.6,1096.1L1577.2,1088.2L1596.8,1084.4L1616.3,1063.6L1635.9,1067.1L1655.5,1059.3L1675.0,1048.6L1694.6,963.7L1714.2,854.8L1733.7,787.0L1753.3,774.2L1772.9,1121.1L1792.5,749.6L1812.0,881.1L1831.6,1326.1L1851.2,780.2L1870.7,1064.6L1890.3,909.7L1909.9,887.0L1929.4,901.3L1949.0,905.1L1968.6,1023.5" fill="none" stroke="#000" stroke-width="2.7" stroke-linejoin="round" stroke-linecap="round"/>
<path d="M1107.5,1004.0L1127.1,824.9L1146.6,1219.3L1166.2,1006.4L1185.8,1228.1L1205.3,1308.6L1224.9,1221.0L1244.5,1038.0L1264.1,828.0L1283.6,1106.8L1303.2,1083.0L1322.8,1077.7L1342.3,1000.0L1361.9,795.5L1381.5,818.0L1401.0,936.1L1420.6,964.0L1440.2,1003.0L1459.8,1036.0L1479.3,1074.0L1498.9,1122.0L1518.5,1092.2L1538.0,1095.2L1557.6,1093.9L1577.2,1094.1L1596.8,1092.1L1616.3,1073.0L1635.9,1072.6L1655.5,1063.3L1675.0,1054.0L1694.6,966.3L1714.2,856.1L1733.7,782.5L1753.3,775.0L1772.9,1120.9L1792.5,752.0L1812.0,881.7L1831.6,1326.1L1851.2,777.8L1870.7,1066.5L1890.3,913.1L1909.9,886.5L1929.4,901.9L1949.0,903.2L1968.6,1023.3" fill="none" stroke="#000" stroke-width="2.7" stroke-linejoin="round" stroke-linecap="round"/>
<path d="M1107.5,1032.0L1127.1,831.1L1146.6,1219.4L1166.2,1007.8L1185.8,1219.6L1205.3,1307.6L1224.9,1219.7L1244.5,1038.0L1264.1,827.2L1283.6,1116.0L1303.2,1086.7L1322.8,1075.3L1342.3,996.5L1361.9,800.0L1381.5,819.0L1401.0,940.2L1420.6,961.6L1440.2,1001.3L1459.8,1036.0L1479.3,1071.0L1498.9,1116.0L1518.5,1097.0L1538.0,1102.0L1557.6,1095.5L1577.2,1089.0L1596.8,1088.6L1616.3,1069.9L1635.9,1073.0L1655.5,1061.0L1675.0,1054.0L1694.6,969.0L1714.2,856.8L1733.7,784.1L1753.3,775.0L1772.9,1121.3L1792.5,752.0L1812.0,880.8L1831.6,1326.1L1851.2,790.0L1870.7,1067.4L1890.3,914.0L1909.9,885.3L1929.4,903.3L1949.0,904.5L1968.6,1023.0" fill="none" stroke="#000" stroke-width="2.7" stroke-linejoin="round" stroke-linecap="round"/>
<path d="M1107.5,1004.0L1127.1,838.0L1146.6,1219.5L1166.2,1007.4L1185.8,1227.6L1205.3,1314.0L1224.9,1218.2L1244.5,1036.1L1264.1,811.1L1283.6,1113.6L1303.2,1088.0L1322.8,1078.0L1342.3,1000.0L1361.9,800.0L1381.5,819.0L1401.0,941.3L1420.6,963.7L1440.2,1003.0L1459.8,1036.0L1479.3,1067.4L1498.9,1122.0L1518.5,1095.1L1538.0,1099.8L1557.6,1097.4L1577.2,1091.8L1596.8,1085.3L1616.3,1069.2L1635.9,1070.2L1655.5,1064.0L1675.0,1049.8L1694.6,969.0L1714.2,852.6L1733.7,785.6L1753.3,775.0L1772.9,1122.0L1792.5,751.2L1812.0,880.5L1831.6,1327.5L1851.2,785.9L1870.7,1070.0L1890.3,911.0L1909.9,884.8L1929.4,907.5L1949.0,903.9L1968.6,1023.9" fill="none" stroke="#000" stroke-width="2.7" stroke-linejoin="round" stroke-linecap="round"/>
<path d="M1107.5,1032.0L1127.1,838.0L1146.6,1221.0L1166.2,1008.0L1185.8,1238.0L1205.3,1314.0L1224.9,1221.0L1244.5,1038.0L1264.1,828.0L1283.6,1116.0L1303.2,1088.0L1322.8,1078.0L1342.3,1000.0L1361.9,800.0L1381.5,819.0L1401.0,944.0L1420.6,967.0L1440.2,1003.0L1459.8,1036.0L1479.3,1074.0L1498.9,1122.0L1518.5,1097.0L1538.0,1102.0L1557.6,1100.0L1577.2,1097.0L1596.8,1093.0L1616.3,1073.0L1635.9,1073.0L1655.5,1064.0L1675.0,1054.0L1694.6,969.0L1714.2,860.0L1733.7,787.0L1753.3,775.0L1772.9,1122.0L1792.5,752.0L1812.0,882.0L1831.6,1328.0L1851.2,790.0L1870.7,1070.0L1890.3,914.0L1909.9,887.0L1929.4,907.5L1949.0,907.0L1968.6,1026.0" fill="none" stroke="#000" stroke-width="2.7" stroke-linejoin="round" stroke-linecap="round"/>
<path d="M1117.7,1340.6v-7.5M1137.2,1340.6v-7.5M1156.8,1340.6v-7.5M1176.3,1340.6v-7.5M1195.9,1340.6v-7.5M1215.4,1340.6v-7.5M1235.0,1340.6v-7.5M1254.5,1340.6v-7.5M1274.1,1340.6v-7.5M1293.7,1340.6v-7.5M1313.2,1340.6v-7.5M1332.8,1340.6v-7.5M1352.3,1340.6v-7.5M1371.9,1340.6v-7.5M1391.4,1340.6v-7.5M1411.0,1340.6v-7.5M1430.6,1340.6v-7.5M1450.1,1340.6v-7.5M1469.7,1340.6v-7.5M1489.2,1340.6v-7.5M1508.8,1340.6v-7.5M1528.3,1340.6v-7.5M1547.9,1340.6v-7.5M1567.4,1340.6v-7.5M1587.0,1340.6v-7.5M1606.6,1340.6v-7.5M1626.1,1340.6v-7.5M1645.7,1340.6v-7.5M1665.2,1340.6v-7.5M1684.8,1340.6v-7.5M1704.3,1340.6v-7.5M1723.9,1340.6v-7.5M1743.4,1340.6v-7.5M1763.0,1340.6v-7.5M1782.6,1340.6v-7.5M1802.1,1340.6v-7.5M1821.7,1340.6v-7.5M1841.2,1340.6v-7.5M1860.8,1340.6v-7.5M1880.3,1340.6v-7.5M1899.9,1340.6v-7.5M1919.5,1340.6v-7.5M1939.0,1340.6v-7.5M1958.6,1340.6v-7.5" stroke="#1a1718" stroke-width="2.8" fill="none"/>
<rect x="1098.1" y="725.8" width="880.0" height="614.8" fill="none" stroke="#1a1718" stroke-width="3.8"/>
<text x="1073.8" y="730.5" font-size="28.6" text-anchor="end" textLength="45.3" lengthAdjust="spacingAndGlyphs" fill="#231f20">100</text>
<text x="1073.8" y="883.4" font-size="28.6" text-anchor="end" textLength="30.2" lengthAdjust="spacingAndGlyphs" fill="#231f20">10</text>
<text x="1073.8" y="1036.8999999999999" font-size="28.6" text-anchor="end" textLength="15.1" lengthAdjust="spacingAndGlyphs" fill="#231f20">1</text>
<text x="1073.8" y="1190.1" font-size="28.6" text-anchor="end" textLength="37.8" lengthAdjust="spacingAndGlyphs" fill="#231f20">0.1</text>
<text x="1073.8" y="1342.8999999999999" font-size="28.6" text-anchor="end" textLength="52.9" lengthAdjust="spacingAndGlyphs" fill="#231f20">0.01</text>
<text x="1019.3" y="1020.8" font-size="37.7" text-anchor="middle" transform="rotate(-90 1019.3 1020.8)" fill="#0a0a0a">Sample/NMORB</text>
<text x="1113.3" y="1348" font-size="24" text-anchor="end" transform="rotate(-90 1113.3 1348)" fill="#0a0a0a">Na2O</text>
<text x="1132.9" y="1348" font-size="24" text-anchor="end" transform="rotate(-90 1132.9 1348)" fill="#0a0a0a">K2O</text>
<text x="1152.4" y="1348" font-size="24" text-anchor="end" transform="rotate(-90 1152.4 1348)" fill="#0a0a0a">FeO</text>
<text x="1172.0" y="1348" font-size="24" text-anchor="end" transform="rotate(-90 1172.0 1348)" fill="#0a0a0a">SiO2</text>
<text x="1191.6" y="1348" font-size="24" text-anchor="end" transform="rotate(-90 1191.6 1348)" fill="#0a0a0a">TiO2</text>
<text x="1211.1" y="1348" font-size="24" text-anchor="end" transform="rotate(-90 1211.1 1348)" fill="#0a0a0a">MgO</text>
<text x="1230.7" y="1348" font-size="24" text-anchor="end" transform="rotate(-90 1230.7 1348)" fill="#0a0a0a">CaO</text>
<text x="1250.3" y="1348" font-size="24" text-anchor="end" transform="rotate(-90 1250.3 1348)" fill="#0a0a0a">Al2O3</text>
<text x="1269.9" y="1348" font-size="24" text-anchor="end" transform="rotate(-90 1269.9 1348)" fill="#0a0a0a">Rb</text>
<text x="1289.4" y="1348" font-size="24" text-anchor="end" transform="rotate(-90 1289.4 1348)" fill="#0a0a0a">Sr</text>
<text x="1309.0" y="1348" font-size="24" text-anchor="end" transform="rotate(-90 1309.0 1348)" fill="#0a0a0a">Y</text>
<text x="1328.6" y="1348" font-size="24" text-anchor="end" transform="rotate(-90 1328.6 1348)" fill="#0a0a0a">Zr</text>
<text x="1348.1" y="1348" font-size="24" text-anchor="end" transform="rotate(-90 1348.1 1348)" fill="#0a0a0a">Nb</text>
<text x="1367.7" y="1348" font-size="24" text-anchor="end" transform="rotate(-90 1367.7 1348)" fill="#0a0a0a">Cs</text>
<text x="1387.3" y="1348" font-size="24" text-anchor="end" transform="rotate(-90 1387.3 1348)" fill="#0a0a0a">Ba</text>
<text x="1406.8" y="1348" font-size="24" text-anchor="end" transform="rotate(-90 1406.8 1348)" fill="#0a0a0a">La</text>
<text x="1426.4" y="1348" font-size="24" text-anchor="end" transform="rotate(-90 1426.4 1348)" fill="#0a0a0a">Ce</text>
<text x="1446.0" y="1348" font-size="24" text-anchor="end" transform="rotate(-90 1446.0 1348)" fill="#0a0a0a">Pr</text>
<text x="1465.6" y="1348" font-size="24" text-anchor="end" transform="rotate(-90 1465.6 1348)" fill="#0a0a0a">Nd</text>
<text x="1485.1" y="1348" font-size="24" text-anchor="end" transform="rotate(-90 1485.1 1348)" fill="#0a0a0a">Sm</text>
<text x="1504.7" y="1348" font-size="24" text-anchor="end" transform="rotate(-90 1504.7 1348)" fill="#0a0a0a">Eu</text>
<text x="1524.3" y="1348" font-size="24" text-anchor="end" transform="rotate(-90 1524.3 1348)" fill="#0a0a0a">Gd</text>
<text x="1543.8" y="1348" font-size="24" text-anchor="end" transform="rotate(-90 1543.8 1348)" fill="#0a0a0a">Tb</text>
<text x="1563.4" y="1348" font-size="24" text-anchor="end" transform="rotate(-90 1563.4 1348)" fill="#0a0a0a">Dy</text>
<text x="1583.0" y="1348" font-size="24" text-anchor="end" transform="rotate(-90 1583.0 1348)" fill="#0a0a0a">Ho</text>
<text x="1602.5" y="1348" font-size="24" text-anchor="end" transform="rotate(-90 1602.5 1348)" fill="#0a0a0a">Er</text>
<text x="1622.1" y="1348" font-size="24" text-anchor="end" transform="rotate(-90 1622.1 1348)" fill="#0a0a0a">Tm</text>
<text x="1641.7" y="1348" font-size="24" text-anchor="end" transform="rotate(-90 1641.7 1348)" fill="#0a0a0a">Yb</text>
<text x="1661.3" y="1348" font-size="24" text-anchor="end" transform="rotate(-90 1661.3 1348)" fill="#0a0a0a">Lu</text>
<text x="1680.8" y="1348" font-size="24" text-anchor="end" transform="rotate(-90 1680.8 1348)" fill="#0a0a0a">Hf</text>
<text x="1700.4" y="1348" font-size="24" text-anchor="end" transform="rotate(-90 1700.4 1348)" fill="#0a0a0a">Ta</text>
<text x="1720.0" y="1348" font-size="24" text-anchor="end" transform="rotate(-90 1720.0 1348)" fill="#0a0a0a">Pb</text>
<text x="1739.5" y="1348" font-size="24" text-anchor="end" transform="rotate(-90 1739.5 1348)" fill="#0a0a0a">Th</text>
<text x="1759.1" y="1348" font-size="24" text-anchor="end" transform="rotate(-90 1759.1 1348)" fill="#0a0a0a">U</text>
<text x="1778.7" y="1348" font-size="24" text-anchor="end" transform="rotate(-90 1778.7 1348)" fill="#0a0a0a">Zr/Nb</text>
<text x="1798.2" y="1348" font-size="24" text-anchor="end" transform="rotate(-90 1798.2 1348)" fill="#0a0a0a">Th/Yb</text>
<text x="1817.8" y="1348" font-size="24" text-anchor="end" transform="rotate(-90 1817.8 1348)" fill="#0a0a0a">Ba/Ce</text>
<text x="1837.4" y="1348" font-size="24" text-anchor="end" transform="rotate(-90 1837.4 1348)" fill="#0a0a0a">Zr/Rb</text>
<text x="1857.0" y="1348" font-size="24" text-anchor="end" transform="rotate(-90 1857.0 1348)" fill="#0a0a0a">Ba/Y</text>
<text x="1876.5" y="1348" font-size="24" text-anchor="end" transform="rotate(-90 1876.5 1348)" fill="#0a0a0a">Ba/Rb</text>
<text x="1896.1" y="1348" font-size="24" text-anchor="end" transform="rotate(-90 1896.1 1348)" fill="#0a0a0a">Ce/Gd</text>
<text x="1915.7" y="1348" font-size="24" text-anchor="end" transform="rotate(-90 1915.7 1348)" fill="#0a0a0a">Th/La</text>
<text x="1935.2" y="1348" font-size="24" text-anchor="end" transform="rotate(-90 1935.2 1348)" fill="#0a0a0a">La/Sm</text>
<text x="1954.8" y="1348" font-size="24" text-anchor="end" transform="rotate(-90 1954.8 1348)" fill="#0a0a0a">La/Yb</text>
<text x="1974.4" y="1348" font-size="24" text-anchor="end" transform="rotate(-90 1974.4 1348)" fill="#0a0a0a">U/Th</text>
<text x="1527.5" y="1278" font-size="30.4" text-anchor="middle" fill="#000">Element spectra of all Archaeos samples,</text>
<text x="1532.5" y="1315.5" font-size="30.4" text-anchor="middle" fill="#000">both submarine (38) and onland (7)</text>
<text x="1906.7" y="791" font-size="41" textLength="50.1" lengthAdjust="spacingAndGlyphs" fill="#0a0a0a">(d)</text>
</g>
<g id="legend">
<rect x="94" y="1444" width="1876" height="206" fill="none" stroke="#1a1718" stroke-width="2.4"/>
<text x="115.5" y="1481.5" font-size="30.4" font-weight="bold" fill="#0a0a0a">Christiana-Santorini - Kolumbo</text>
<text x="115.5" y="1521" font-size="30.4" fill="#0a0a0a">Kolumbo 1650 CE</text>
<text x="115.5" y="1559" font-size="30.4" fill="#0a0a0a">Young Santorini &lt;530 ka</text>
<text x="115.5" y="1596.5" font-size="30.4" fill="#0a0a0a">Old Santorini (Akrotiri) &gt;650-550 ka</text>
<text x="115.5" y="1634" font-size="30.4" fill="#0a0a0a">Christiana &gt;1600 ka</text>
<text x="653" y="1481.5" font-size="30.4" font-weight="bold" fill="#0a0a0a">Nisyros</text>
<text x="653" y="1521" font-size="30.4" fill="#0a0a0a">Nisyros Upper Pum (N1) 46 ka</text>
<text x="653" y="1559" font-size="30.4" fill="#0a0a0a">Nisyros Lower Pum (N4) &gt;47 ka</text>
<text x="653" y="1596.5" font-size="30.4" fill="#0a0a0a">Nisyros-Kyra (NK) 138 ka</text>
<text x="1146.5" y="1481.5" font-size="30.4" font-weight="bold" fill="#0a0a0a">Kos - Yali</text>
<text x="1146.5" y="1521" font-size="30.4" fill="#0a0a0a">Kos Plateau Tuff (KPT) 161 ka</text>
<text x="1146.5" y="1559" font-size="30.4" fill="#0a0a0a">Yali 1 (YA1)</text>
<text x="1146.5" y="1596.5" font-size="30.4" fill="#0a0a0a">Yali 2 (YA2) 31-35 ka</text>
<text x="1618" y="1481.5" font-size="30.4" font-weight="bold" fill="#0a0a0a">Milos</text>
<text x="1618" y="1521" font-size="30.4" fill="#0a0a0a">Firiplaka (MFT) 62 ka</text>
<text x="1618" y="1559" font-size="30.4" fill="#0a0a0a">Trachillas (MTT) 317 ka</text>
</g>
</svg>
</body></html>
